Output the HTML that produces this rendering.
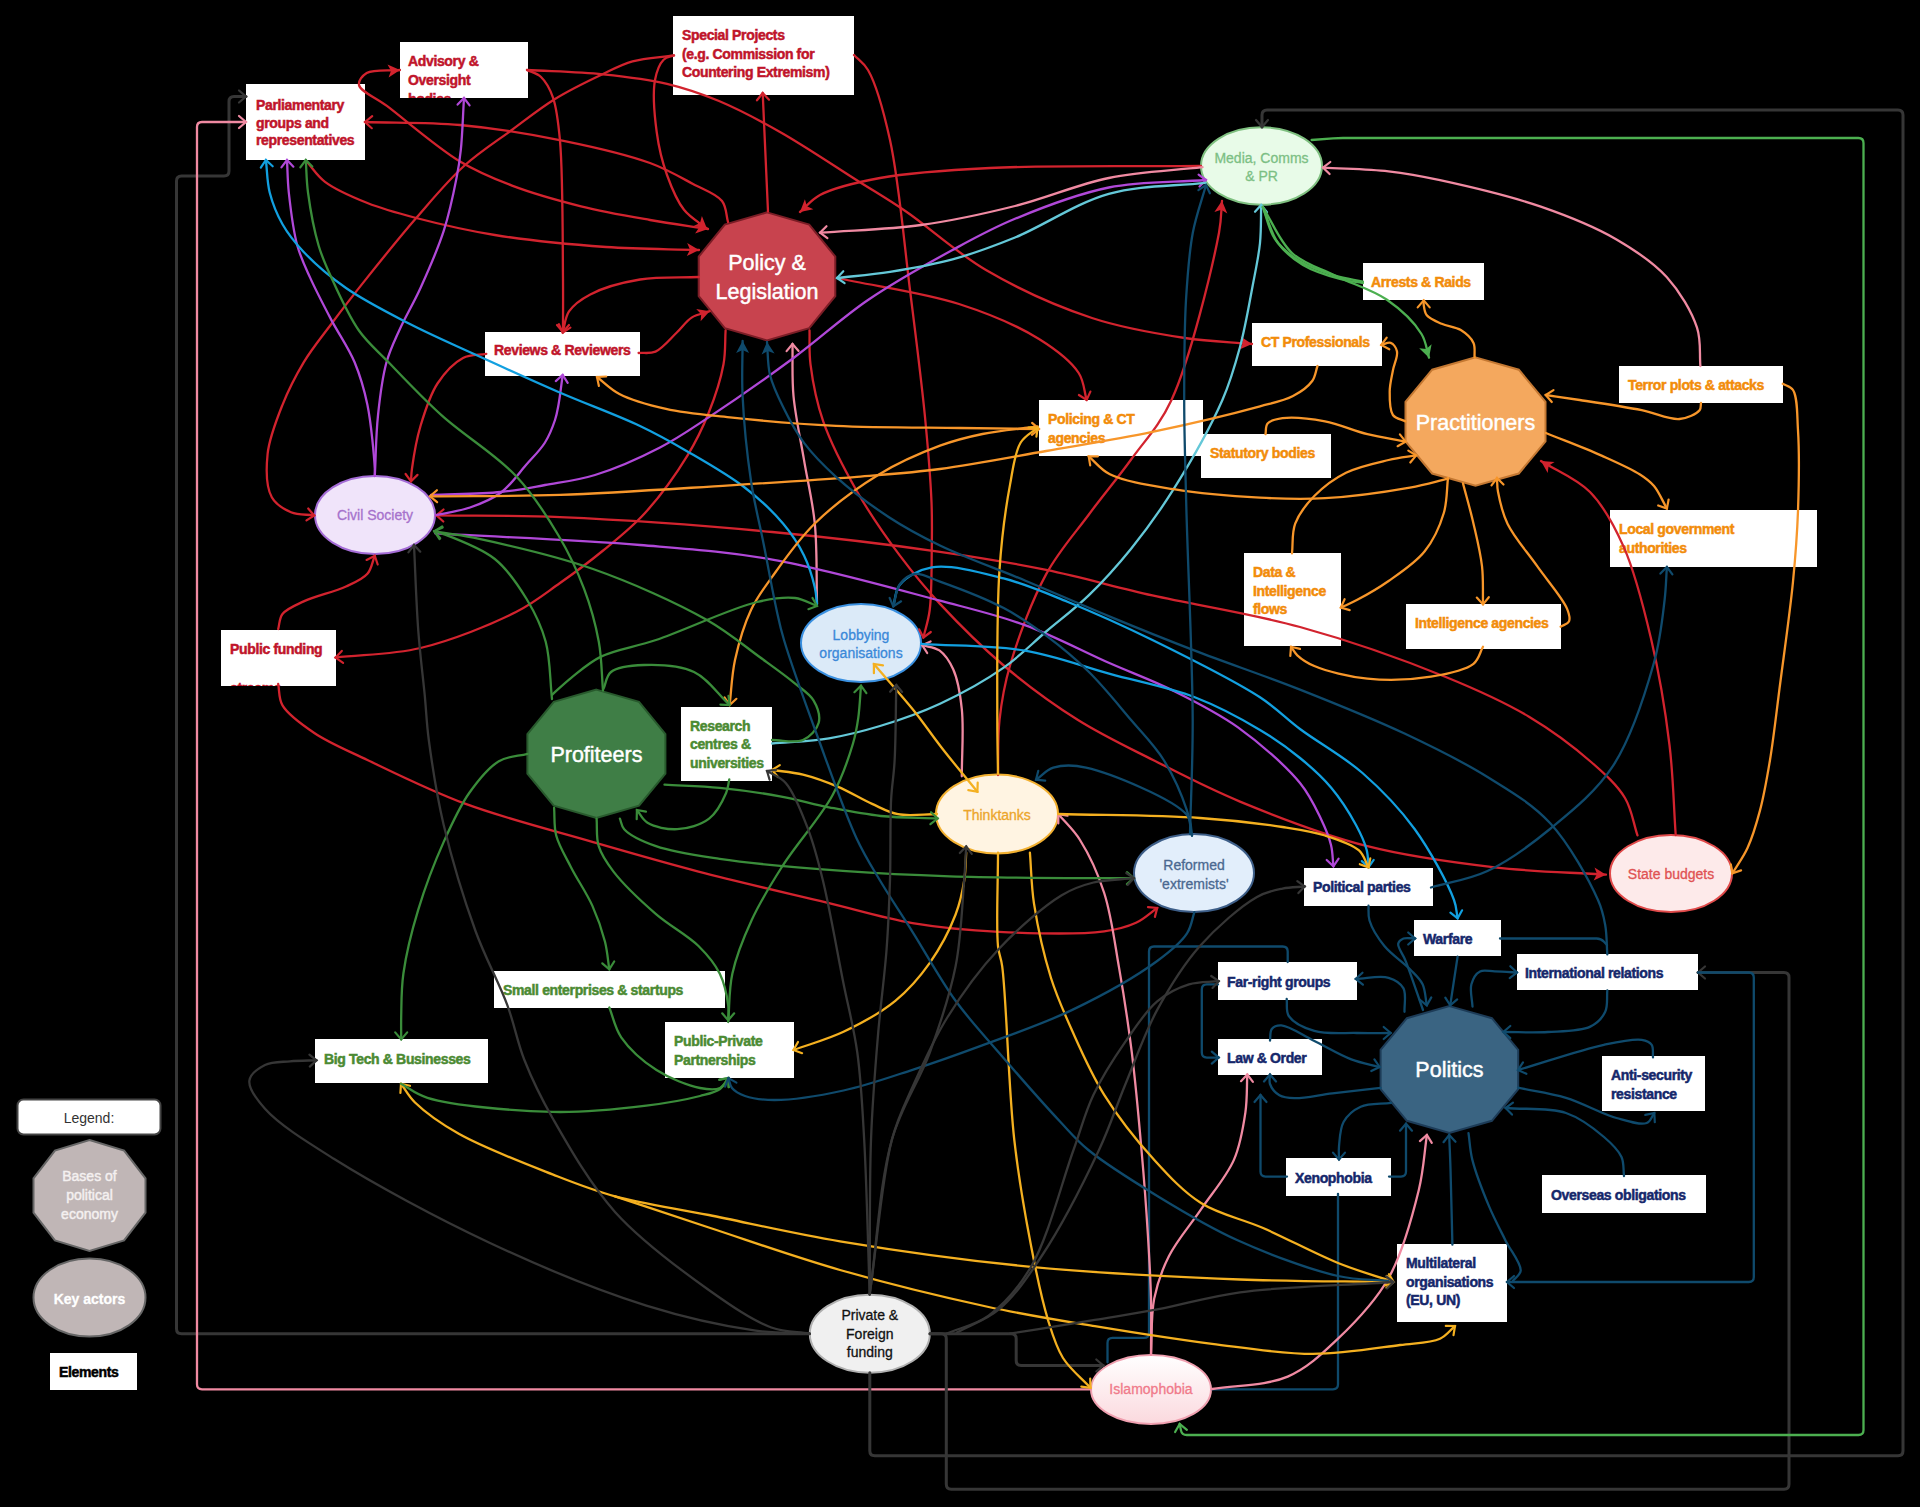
<!DOCTYPE html>
<html><head><meta charset="utf-8"><style>
html,body{margin:0;padding:0;background:#000;width:1920px;height:1507px;overflow:hidden}
svg{display:block;font-family:"Liberation Sans",sans-serif}
.bx{font-size:14px;font-weight:bold;letter-spacing:-0.35px;stroke-width:0.5px;paint-order:stroke}
</style></head><body>
<svg width="1920" height="1507" viewBox="0 0 1920 1507">
<rect width="1920" height="1507" fill="#000"/>
<linearGradient id="islg" x1="0" y1="0" x2="0" y2="1"><stop offset="0" stop-color="#ffffff"/><stop offset="1" stop-color="#fbd9de"/></linearGradient>
<rect x="17.5" y="1099.5" width="143" height="35" rx="6" fill="#fff" stroke="#444" stroke-width="2"/>
<text x="89" y="1123" text-anchor="middle" font-size="14" fill="#333">Legend:</text>
<clipPath id="c0"><rect x="246" y="84" width="119" height="76"/></clipPath>
<rect x="246" y="84" width="119" height="76" fill="#fff"/>
<g clip-path="url(#c0)"><text class="bx" x="256" y="110" fill="#c0142a" stroke="#c0142a">Parliamentary</text><text class="bx" x="256" y="127.5" fill="#c0142a" stroke="#c0142a">groups and</text><text class="bx" x="256" y="145" fill="#c0142a" stroke="#c0142a">representatives</text></g>
<clipPath id="c1"><rect x="400" y="42" width="128" height="56"/></clipPath>
<rect x="400" y="42" width="128" height="56" fill="#fff"/>
<g clip-path="url(#c1)"><text class="bx" x="408" y="66" fill="#c0142a" stroke="#c0142a">Advisory &amp;</text><text class="bx" x="408" y="84.5" fill="#c0142a" stroke="#c0142a">Oversight</text><text class="bx" x="408" y="104" fill="#c0142a" stroke="#c0142a">bodies</text></g>
<clipPath id="c2"><rect x="673" y="16" width="181" height="79"/></clipPath>
<rect x="673" y="16" width="181" height="79" fill="#fff"/>
<g clip-path="url(#c2)"><text class="bx" x="682" y="40" fill="#c0142a" stroke="#c0142a">Special Projects</text><text class="bx" x="682" y="59" fill="#c0142a" stroke="#c0142a">(e.g. Commission for</text><text class="bx" x="682" y="77" fill="#c0142a" stroke="#c0142a">Countering Extremism)</text></g>
<clipPath id="c3"><rect x="485" y="332" width="155" height="44"/></clipPath>
<rect x="485" y="332" width="155" height="44" fill="#fff"/>
<g clip-path="url(#c3)"><text class="bx" x="494" y="355" fill="#c0142a" stroke="#c0142a">Reviews &amp; Reviewers</text></g>
<clipPath id="c4"><rect x="221" y="630" width="115" height="56"/></clipPath>
<rect x="221" y="630" width="115" height="56" fill="#fff"/>
<g clip-path="url(#c4)"><text class="bx" x="230" y="654" fill="#c0142a" stroke="#c0142a">Public funding</text><text class="bx" x="230" y="693" fill="#c0142a" stroke="#c0142a">streams</text></g>
<clipPath id="c5"><rect x="1252" y="323" width="130" height="43"/></clipPath>
<rect x="1252" y="323" width="130" height="43" fill="#fff"/>
<g clip-path="url(#c5)"><text class="bx" x="1261" y="347" fill="#f28c0a" stroke="#f28c0a">CT Professionals</text></g>
<clipPath id="c6"><rect x="1363" y="263" width="121" height="37"/></clipPath>
<rect x="1363" y="263" width="121" height="37" fill="#fff"/>
<g clip-path="url(#c6)"><text class="bx" x="1371" y="287" fill="#f28c0a" stroke="#f28c0a">Arrests &amp; Raids</text></g>
<clipPath id="c7"><rect x="1619" y="366" width="164" height="37"/></clipPath>
<rect x="1619" y="366" width="164" height="37" fill="#fff"/>
<g clip-path="url(#c7)"><text class="bx" x="1628" y="390" fill="#f28c0a" stroke="#f28c0a">Terror plots &amp; attacks</text></g>
<clipPath id="c8"><rect x="1039" y="400" width="164" height="56"/></clipPath>
<rect x="1039" y="400" width="164" height="56" fill="#fff"/>
<g clip-path="url(#c8)"><text class="bx" x="1048" y="424" fill="#f28c0a" stroke="#f28c0a">Policing &amp; CT</text><text class="bx" x="1048" y="442.5" fill="#f28c0a" stroke="#f28c0a">agencies</text></g>
<clipPath id="c9"><rect x="1201" y="434" width="130" height="44"/></clipPath>
<rect x="1201" y="434" width="130" height="44" fill="#fff"/>
<g clip-path="url(#c9)"><text class="bx" x="1210" y="458" fill="#f28c0a" stroke="#f28c0a">Statutory bodies</text></g>
<clipPath id="c10"><rect x="1244" y="553" width="97" height="93"/></clipPath>
<rect x="1244" y="553" width="97" height="93" fill="#fff"/>
<g clip-path="url(#c10)"><text class="bx" x="1253" y="577" fill="#f28c0a" stroke="#f28c0a">Data &amp;</text><text class="bx" x="1253" y="595.5" fill="#f28c0a" stroke="#f28c0a">Intelligence</text><text class="bx" x="1253" y="614" fill="#f28c0a" stroke="#f28c0a">flows</text></g>
<clipPath id="c11"><rect x="1406" y="604" width="155" height="45"/></clipPath>
<rect x="1406" y="604" width="155" height="45" fill="#fff"/>
<g clip-path="url(#c11)"><text class="bx" x="1415" y="628" fill="#f28c0a" stroke="#f28c0a">Intelligence agencies</text></g>
<clipPath id="c12"><rect x="1610" y="510" width="207" height="57"/></clipPath>
<rect x="1610" y="510" width="207" height="57" fill="#fff"/>
<g clip-path="url(#c12)"><text class="bx" x="1619" y="534" fill="#f28c0a" stroke="#f28c0a">Local government</text><text class="bx" x="1619" y="553" fill="#f28c0a" stroke="#f28c0a">authorities</text></g>
<clipPath id="c13"><rect x="681" y="707" width="91" height="74"/></clipPath>
<rect x="681" y="707" width="91" height="74" fill="#fff"/>
<g clip-path="url(#c13)"><text class="bx" x="690" y="730.5" fill="#4b8a32" stroke="#4b8a32">Research</text><text class="bx" x="690" y="749" fill="#4b8a32" stroke="#4b8a32">centres &amp;</text><text class="bx" x="690" y="767.5" fill="#4b8a32" stroke="#4b8a32">universities</text></g>
<clipPath id="c14"><rect x="494" y="971" width="231" height="37"/></clipPath>
<rect x="494" y="971" width="231" height="37" fill="#fff"/>
<g clip-path="url(#c14)"><text class="bx" x="503" y="995" fill="#4b8a32" stroke="#4b8a32">Small enterprises &amp; startups</text></g>
<clipPath id="c15"><rect x="665" y="1022" width="129" height="56"/></clipPath>
<rect x="665" y="1022" width="129" height="56" fill="#fff"/>
<g clip-path="url(#c15)"><text class="bx" x="674" y="1046" fill="#4b8a32" stroke="#4b8a32">Public-Private</text><text class="bx" x="674" y="1065" fill="#4b8a32" stroke="#4b8a32">Partnerships</text></g>
<clipPath id="c16"><rect x="315" y="1039" width="173" height="44"/></clipPath>
<rect x="315" y="1039" width="173" height="44" fill="#fff"/>
<g clip-path="url(#c16)"><text class="bx" x="324" y="1064" fill="#4b8a32" stroke="#4b8a32">Big Tech &amp; Businesses</text></g>
<clipPath id="c17"><rect x="1304" y="868" width="129" height="38"/></clipPath>
<rect x="1304" y="868" width="129" height="38" fill="#fff"/>
<g clip-path="url(#c17)"><text class="bx" x="1313" y="892" fill="#15276b" stroke="#15276b">Political parties</text></g>
<clipPath id="c18"><rect x="1414" y="920" width="87" height="36"/></clipPath>
<rect x="1414" y="920" width="87" height="36" fill="#fff"/>
<g clip-path="url(#c18)"><text class="bx" x="1423" y="944" fill="#15276b" stroke="#15276b">Warfare</text></g>
<clipPath id="c19"><rect x="1218" y="962" width="139" height="38"/></clipPath>
<rect x="1218" y="962" width="139" height="38" fill="#fff"/>
<g clip-path="url(#c19)"><text class="bx" x="1227" y="987" fill="#15276b" stroke="#15276b">Far-right groups</text></g>
<clipPath id="c20"><rect x="1218" y="1039" width="104" height="36"/></clipPath>
<rect x="1218" y="1039" width="104" height="36" fill="#fff"/>
<g clip-path="url(#c20)"><text class="bx" x="1227" y="1063" fill="#15276b" stroke="#15276b">Law &amp; Order</text></g>
<clipPath id="c21"><rect x="1517" y="954" width="181" height="36"/></clipPath>
<rect x="1517" y="954" width="181" height="36" fill="#fff"/>
<g clip-path="url(#c21)"><text class="bx" x="1525" y="978" fill="#15276b" stroke="#15276b">International relations</text></g>
<clipPath id="c22"><rect x="1602" y="1056" width="103" height="55"/></clipPath>
<rect x="1602" y="1056" width="103" height="55" fill="#fff"/>
<g clip-path="url(#c22)"><text class="bx" x="1611" y="1080" fill="#15276b" stroke="#15276b">Anti-security</text><text class="bx" x="1611" y="1099" fill="#15276b" stroke="#15276b">resistance</text></g>
<clipPath id="c23"><rect x="1286" y="1158" width="105" height="38"/></clipPath>
<rect x="1286" y="1158" width="105" height="38" fill="#fff"/>
<g clip-path="url(#c23)"><text class="bx" x="1295" y="1182.5" fill="#15276b" stroke="#15276b">Xenophobia</text></g>
<clipPath id="c24"><rect x="1542" y="1175" width="164" height="38"/></clipPath>
<rect x="1542" y="1175" width="164" height="38" fill="#fff"/>
<g clip-path="url(#c24)"><text class="bx" x="1551" y="1200" fill="#15276b" stroke="#15276b">Overseas obligations</text></g>
<clipPath id="c25"><rect x="1397" y="1244" width="110" height="78"/></clipPath>
<rect x="1397" y="1244" width="110" height="78" fill="#fff"/>
<g clip-path="url(#c25)"><text class="bx" x="1406" y="1268" fill="#15276b" stroke="#15276b">Multilateral</text><text class="bx" x="1406" y="1287" fill="#15276b" stroke="#15276b">organisations</text><text class="bx" x="1406" y="1305" fill="#15276b" stroke="#15276b">(EU, UN)</text></g>
<clipPath id="c26"><rect x="50" y="1353" width="87" height="37"/></clipPath>
<rect x="50" y="1353" width="87" height="37" fill="#fff"/>
<g clip-path="url(#c26)"><text class="bx" x="59" y="1377" fill="#000" stroke="#000">Elements</text></g>
<polygon points="767.0,212.4 809.2,224.6 835.3,256.6 835.3,296.2 809.2,328.2 767.0,340.4 724.8,328.2 698.7,296.2 698.7,256.6 724.8,224.6" fill="#c8434e" stroke="#7b1d26" stroke-width="2"/>
<text x="767" y="270" text-anchor="middle" font-size="21.5" fill="#fff" stroke="#fff" stroke-width="0.45" style="paint-order:stroke">Policy &amp;</text>
<text x="767" y="299" text-anchor="middle" font-size="21.5" fill="#fff" stroke="#fff" stroke-width="0.45" style="paint-order:stroke">Legislation</text>
<polygon points="1475.5,357.4 1518.8,369.7 1545.5,401.8 1545.5,441.4 1518.8,473.5 1475.5,485.8 1432.2,473.5 1405.5,441.4 1405.5,401.8 1432.2,369.7" fill="#f4a85e" stroke="#c47832" stroke-width="2"/>
<text x="1475.5" y="430" text-anchor="middle" font-size="21.5" fill="#fff" stroke="#fff" stroke-width="0.45" style="paint-order:stroke">Practitioners</text>
<polygon points="596.4,689.6 639.0,701.9 665.4,734.0 665.4,773.6 639.0,805.7 596.4,818.0 553.8,805.7 527.4,773.6 527.4,734.0 553.8,701.9" fill="#3f7e46" stroke="#285a2d" stroke-width="2"/>
<text x="596.4" y="762" text-anchor="middle" font-size="21.5" fill="#fff" stroke="#fff" stroke-width="0.45" style="paint-order:stroke">Profiteers</text>
<polygon points="1449.4,1006.1 1491.9,1018.2 1518.2,1049.9 1518.2,1089.1 1491.9,1120.8 1449.4,1132.9 1406.9,1120.8 1380.6,1089.1 1380.6,1049.9 1406.9,1018.2" fill="#3a6482" stroke="#1d3c58" stroke-width="2"/>
<text x="1449.4" y="1077" text-anchor="middle" font-size="21.5" fill="#fff" stroke="#fff" stroke-width="0.45" style="paint-order:stroke">Politics</text>
<polygon points="89.5,1140.0 124.1,1150.6 145.5,1178.3 145.5,1212.7 124.1,1240.4 89.5,1251.0 54.9,1240.4 33.5,1212.7 33.5,1178.3 54.9,1150.6" fill="#c0b6b6" stroke="#666666" stroke-width="2"/>
<text x="89.5" y="1181" text-anchor="middle" font-size="14" fill="#f4f0f0" stroke="#f4f0f0" stroke-width="0.45" style="paint-order:stroke">Bases of</text>
<text x="89.5" y="1200" text-anchor="middle" font-size="14" fill="#f4f0f0" stroke="#f4f0f0" stroke-width="0.45" style="paint-order:stroke">political</text>
<text x="89.5" y="1218.5" text-anchor="middle" font-size="14" fill="#f4f0f0" stroke="#f4f0f0" stroke-width="0.45" style="paint-order:stroke">economy</text>
<ellipse cx="1261.5" cy="166" rx="60.5" ry="38.7" fill="#e8fbe8" stroke="#7fc080" stroke-width="2"/>
<text x="1261.5" y="163" text-anchor="middle" font-size="14"  fill="#7cbf84" stroke="#7cbf84" stroke-width="0.3" style="paint-order:stroke">Media, Comms</text>
<text x="1261.5" y="181" text-anchor="middle" font-size="14"  fill="#7cbf84" stroke="#7cbf84" stroke-width="0.3" style="paint-order:stroke">&amp; PR</text>
<ellipse cx="375" cy="515" rx="60" ry="39" fill="#f0e4fa" stroke="#a46cd6" stroke-width="2"/>
<text x="375" y="520" text-anchor="middle" font-size="14"  fill="#a672cc" stroke="#a672cc" stroke-width="0.3" style="paint-order:stroke">Civil Society</text>
<ellipse cx="861" cy="643" rx="60" ry="39" fill="#dbeaf8" stroke="#3a90e0" stroke-width="2"/>
<text x="861" y="640" text-anchor="middle" font-size="14"  fill="#3a88d8" stroke="#3a88d8" stroke-width="0.3" style="paint-order:stroke">Lobbying</text>
<text x="861" y="658" text-anchor="middle" font-size="14"  fill="#3a88d8" stroke="#3a88d8" stroke-width="0.3" style="paint-order:stroke">organisations</text>
<ellipse cx="997" cy="814" rx="61" ry="39.4" fill="#fff4e2" stroke="#f2b030" stroke-width="2"/>
<text x="997" y="820" text-anchor="middle" font-size="14"  fill="#eca52a" stroke="#eca52a" stroke-width="0.3" style="paint-order:stroke">Thinktanks</text>
<ellipse cx="1194" cy="873" rx="60" ry="39" fill="#e2eefb" stroke="#3d5e88" stroke-width="2"/>
<text x="1194" y="870" text-anchor="middle" font-size="14"  fill="#4a6890" stroke="#4a6890" stroke-width="0.3" style="paint-order:stroke">Reformed</text>
<text x="1194" y="889" text-anchor="middle" font-size="14"  fill="#4a6890" stroke="#4a6890" stroke-width="0.3" style="paint-order:stroke">&#39;extremists&#39;</text>
<ellipse cx="1671" cy="873.5" rx="61" ry="38.5" fill="#fdeaea" stroke="#e04a4a" stroke-width="2"/>
<text x="1671" y="879" text-anchor="middle" font-size="14"  fill="#e05252" stroke="#e05252" stroke-width="0.3" style="paint-order:stroke">State budgets</text>
<ellipse cx="869.8" cy="1333.7" rx="60" ry="39" fill="#f0f0f0" stroke="#b0b0b0" stroke-width="2"/>
<text x="869.8" y="1320" text-anchor="middle" font-size="14"  fill="#111111" stroke="#111111" stroke-width="0.3" style="paint-order:stroke">Private &amp;</text>
<text x="869.8" y="1339" text-anchor="middle" font-size="14"  fill="#111111" stroke="#111111" stroke-width="0.3" style="paint-order:stroke">Foreign</text>
<text x="869.8" y="1357" text-anchor="middle" font-size="14"  fill="#111111" stroke="#111111" stroke-width="0.3" style="paint-order:stroke">funding</text>
<ellipse cx="1151" cy="1389.4" rx="60" ry="34.5" fill="url(#islg)" stroke="#f0a0b0" stroke-width="2"/>
<text x="1151" y="1394" text-anchor="middle" font-size="14"  fill="#f07a8a" stroke="#f07a8a" stroke-width="0.3" style="paint-order:stroke">Islamophobia</text>
<ellipse cx="89.5" cy="1297.6" rx="56" ry="39" fill="#c0b6b6" stroke="#666666" stroke-width="2"/>
<text x="89.5" y="1303.5" text-anchor="middle" font-size="14" font-weight="bold" fill="#ffffff" stroke="#ffffff" stroke-width="0.3" style="paint-order:stroke">Key actors</text>
<path d="M809.5,1333.7 L181.5,1333.7 Q176.5,1333.7 176.5,1328.7 L176.5,181.0 Q176.5,176.0 181.5,176.0 L224.0,176.0 Q229.0,176.0 229.0,171.0 L229.0,101.5 Q229.0,96.5 234.0,96.5 L246.0,96.5" fill="none" stroke="#363636" stroke-width="3" stroke-linecap="round"/>
<polyline points="239.0,102.5 246.0,96.5 239.0,90.5" fill="none" stroke="#363636" stroke-width="2.2" stroke-linejoin="miter" stroke-linecap="round"/>
<path d="M1091.0,1389.3 L202.0,1389.3 Q197.0,1389.3 197.0,1384.3 L197.0,127.0 Q197.0,122.0 202.0,122.0 L246.0,122.0" fill="none" stroke="#f08aa2" stroke-width="2.3" stroke-linecap="round"/>
<polyline points="239.0,128.0 246.0,122.0 239.0,116.0" fill="none" stroke="#f08aa2" stroke-width="2.2" stroke-linejoin="miter" stroke-linecap="round"/>
<path d="M869.8,1372.8 L869.8,1450.7 Q869.8,1455.7 874.8,1455.7 L1898.0,1455.7 Q1903.0,1455.7 1903.0,1450.7 L1903.0,115.0 Q1903.0,110.0 1898.0,110.0 L1267.0,110.0 Q1262.0,110.0 1262.0,115.0 L1262.0,127.0" fill="none" stroke="#363636" stroke-width="3" stroke-linecap="round"/>
<polyline points="1256.0,120.0 1262.0,127.0 1268.0,120.0" fill="none" stroke="#363636" stroke-width="2.2" stroke-linejoin="miter" stroke-linecap="round"/>
<path d="M930.0,1333.7 L941.3,1333.7 Q946.3,1333.7 946.3,1338.7 L946.3,1484.2 Q946.3,1489.2 951.3,1489.2 L1784.0,1489.2 Q1789.0,1489.2 1789.0,1484.2 L1789.0,977.5 Q1789.0,972.5 1784.0,972.5 L1698.0,972.5" fill="none" stroke="#363636" stroke-width="3" stroke-linecap="round"/>
<polyline points="1705.0,966.5 1698.0,972.5 1705.0,978.5" fill="none" stroke="#363636" stroke-width="2.2" stroke-linejoin="miter" stroke-linecap="round"/>
<path d="M1311.6,140.0 L1333.0,138.4 Q1338.0,138.0 1343.0,138.0 L1858.5,138.0 Q1863.5,138.0 1863.5,143.0 L1863.5,1430.0 Q1863.5,1435.0 1858.5,1435.0 L1186.8,1435.0 Q1181.8,1435.0 1180.9,1430.1 L1179.7,1424.0" fill="none" stroke="#4caf50" stroke-width="2.3" stroke-linecap="round"/>
<polyline points="1186.9,1429.8 1179.7,1424.0 1175.1,1432.0" fill="none" stroke="#4caf50" stroke-width="2.2" stroke-linejoin="miter" stroke-linecap="round"/>
<path d="M1698.0,972.5 L1748.8,972.5 Q1753.8,972.5 1753.8,977.5 L1753.8,1277.0 Q1753.8,1282.0 1748.8,1282.0 L1507.0,1282.0" fill="none" stroke="#0f4a6c" stroke-width="2.3" stroke-linecap="round"/>
<polyline points="1514.0,1276.0 1507.0,1282.0 1514.0,1288.0" fill="none" stroke="#0f4a6c" stroke-width="2.2" stroke-linejoin="miter" stroke-linecap="round"/>
<path d="M1107.5,1362.3 L1107.5,1342.9 Q1107.5,1337.9 1112.5,1337.9 L1144.0,1337.9 Q1149.0,1337.9 1149.0,1332.9 L1149.0,951.5 Q1149.0,946.5 1154.0,946.5 L1282.7,946.5 Q1287.7,946.5 1287.7,951.5 L1287.7,962.0" fill="none" stroke="#0f4a6c" stroke-width="2.3" stroke-linecap="round"/>
<path d="M1218.0,984.4 L1206.8,984.4 Q1201.8,984.4 1201.8,989.4 L1201.8,1052.6 Q1201.8,1057.6 1206.8,1057.6 L1218.8,1057.6" fill="none" stroke="#0f4a6c" stroke-width="2.3" stroke-linecap="round"/>
<polyline points="1211.8,1063.6 1218.8,1057.6 1211.8,1051.6" fill="none" stroke="#0f4a6c" stroke-width="2.2" stroke-linejoin="miter" stroke-linecap="round"/>
<path d="M930.0,1333.7 L1011.2,1333.7 Q1016.2,1333.7 1016.2,1338.7 L1016.2,1360.5 Q1016.2,1365.5 1021.2,1365.5 L1103.3,1365.5" fill="none" stroke="#363636" stroke-width="3" stroke-linecap="round"/>
<polyline points="1096.3,1371.5 1103.3,1365.5 1096.3,1359.5" fill="none" stroke="#363636" stroke-width="2.2" stroke-linejoin="miter" stroke-linecap="round"/>
<path d="M1389.0,1176.6 L1401.0,1176.6 Q1406.0,1176.6 1406.0,1171.6 L1406.0,1123.7" fill="none" stroke="#0f4a6c" stroke-width="2.3" stroke-linecap="round"/>
<polyline points="1412.0,1130.7 1406.0,1123.7 1400.0,1130.7" fill="none" stroke="#0f4a6c" stroke-width="2.2" stroke-linejoin="miter" stroke-linecap="round"/>
<path d="M1287.0,1176.6 L1265.5,1176.6 Q1260.5,1176.6 1260.5,1171.6 L1260.5,1095.0" fill="none" stroke="#0f4a6c" stroke-width="2.3" stroke-linecap="round"/>
<polyline points="1266.5,1102.0 1260.5,1095.0 1254.5,1102.0" fill="none" stroke="#0f4a6c" stroke-width="2.2" stroke-linejoin="miter" stroke-linecap="round"/>
<path d="M1338.0,1193.8 L1338.0,1384.3 Q1338.0,1389.3 1333.0,1389.3 L1212.0,1389.3" fill="none" stroke="#0f4a6c" stroke-width="2.3" stroke-linecap="round"/>
<path d="M1500.0,938.5 L1596.6,938.5 Q1601.0,938.5 1604.0,941.8 L1607.0,945.0" fill="none" stroke="#0f4a6c" stroke-width="2.3" stroke-linecap="round"/>
<path d="M728.0,222.0 C726.0,215.0 726.6,206.9 722.0,201.0 C716.3,193.7 703.7,189.8 693.0,184.0 C680.2,177.1 667.2,169.3 650.0,163.0 C626.5,154.4 593.8,147.0 563.5,140.8 C530.7,134.1 493.9,128.1 460.0,125.0 C427.7,122.0 396.7,123.0 365.0,122.0" fill="none" stroke="#d2232e" stroke-width="2.3" stroke-linecap="round"/>
<polyline points="372.2,116.2 365.0,122.0 371.8,128.2" fill="none" stroke="#d2232e" stroke-width="2.2" stroke-linejoin="miter" stroke-linecap="round"/>
<path d="M306.9,161.7 C312.9,168.4 317.0,175.7 325.0,181.8 C335.6,189.9 352.5,197.0 367.4,203.0 C382.9,209.2 397.9,213.2 416.2,218.0 C439.2,224.0 466.2,230.4 494.8,235.0 C528.5,240.5 570.5,244.5 606.0,247.0 C638.3,249.3 668.0,249.0 699.0,250.0" fill="none" stroke="#d2232e" stroke-width="2.3" stroke-linecap="round"/>
<polygon points="699.0,250.0 686.8,256.1 690.0,249.7 687.2,243.1" fill="#d2232e"/>
<path d="M400.0,70.0 C388.9,71.0 373.5,68.9 366.7,73.0 C362.3,75.7 358.2,80.8 359.0,85.0 C360.2,91.5 375.4,97.2 386.9,105.9 C405.5,120.0 437.0,147.6 460.0,161.5 C478.2,172.4 493.2,178.5 512.0,185.6 C533.1,193.6 557.9,200.5 581.0,206.3 C603.9,212.0 628.0,216.1 650.0,220.0 C670.1,223.6 688.7,226.0 708.0,229.0" fill="none" stroke="#d2232e" stroke-width="2.3" stroke-linecap="round"/>
<polygon points="708.0,229.0 695.1,233.6 699.1,227.6 697.1,220.7" fill="#d2232e"/>
<polygon points="400.0,70.0 388.6,77.6 391.0,70.8 387.5,64.6" fill="#d2232e"/>
<path d="M527.0,70.0 C552.3,71.4 578.8,71.8 603.0,74.3 C625.3,76.6 647.0,79.0 667.0,83.8 C685.4,88.2 701.3,93.6 719.0,101.0 C738.8,109.3 758.7,119.9 780.0,132.0 C804.7,146.0 835.2,166.6 858.0,181.0 C875.9,192.3 888.2,199.3 906.0,211.5 C929.5,227.5 956.5,252.8 986.0,270.0 C1018.0,288.7 1057.2,306.5 1092.0,318.0 C1123.4,328.4 1156.4,333.7 1185.0,338.0 C1209.0,341.6 1229.7,342.0 1252.0,344.0" fill="none" stroke="#d2232e" stroke-width="2.3" stroke-linecap="round"/>
<polygon points="1252.0,344.0 1239.5,349.4 1243.0,343.2 1240.6,336.5" fill="#d2232e"/>
<path d="M527.0,70.0 C531.7,72.3 537.0,73.2 541.0,77.0 C546.0,81.7 550.0,89.1 553.0,97.6 C557.1,109.1 558.3,122.3 560.0,140.8 C563.0,173.7 562.6,243.6 563.0,278.8 C563.2,300.7 563.0,314.3 563.0,332.0" fill="none" stroke="#d2232e" stroke-width="2.3" stroke-linecap="round"/>
<polyline points="557.0,325.0 563.0,332.0 569.0,325.0" fill="none" stroke="#d2232e" stroke-width="2.2" stroke-linejoin="miter" stroke-linecap="round"/>
<path d="M674.0,55.4 C660.2,57.4 645.0,57.9 632.5,61.4 C621.6,64.5 613.9,68.8 603.0,74.0 C588.8,80.7 570.3,89.6 555.0,99.0 C539.9,108.3 526.5,119.2 511.8,130.0 C496.2,141.5 479.3,152.1 464.0,166.0 C447.3,181.1 432.0,199.9 416.2,218.0 C399.8,236.9 382.3,258.7 367.4,277.4 C354.3,293.8 342.4,309.1 331.3,324.0 C321.4,337.3 311.8,348.9 303.7,362.3 C295.6,375.8 288.4,389.9 282.5,404.8 C276.3,420.4 269.2,438.0 267.6,454.0 C266.1,468.7 266.3,487.3 271.8,497.3 C275.9,504.8 283.8,509.2 291.0,512.2 C298.0,515.2 306.5,514.3 314.3,515.4" fill="none" stroke="#d2232e" stroke-width="2.3" stroke-linecap="round"/>
<polyline points="306.5,520.4 314.3,515.4 308.2,508.5" fill="none" stroke="#d2232e" stroke-width="2.2" stroke-linejoin="miter" stroke-linecap="round"/>
<path d="M674.0,55.4 C670.5,56.8 666.5,56.8 663.6,59.7 C659.6,63.7 656.6,71.5 655.0,80.0 C652.6,93.1 654.5,115.6 656.7,132.0 C658.7,147.1 662.2,161.7 667.0,175.0 C671.5,187.5 676.7,200.6 684.0,209.8 C690.4,217.9 699.3,222.4 707.0,228.7" fill="none" stroke="#d2232e" stroke-width="2.3" stroke-linecap="round"/>
<polygon points="707.0,228.7 693.6,226.1 700.0,223.0 701.9,216.1" fill="#d2232e"/>
<path d="M768.0,211.5 L762.7,93.0" fill="none" stroke="#d2232e" stroke-width="2.3" stroke-linecap="round"/>
<polyline points="769.0,99.7 762.7,93.0 757.0,100.3" fill="none" stroke="#d2232e" stroke-width="2.2" stroke-linejoin="miter" stroke-linecap="round"/>
<path d="M699.0,277.0 C679.3,277.8 658.6,276.4 640.0,279.5 C622.5,282.4 602.9,287.8 590.3,294.4 C581.1,299.2 573.6,304.6 569.0,311.4 C564.9,317.5 564.8,325.5 562.7,332.6" fill="none" stroke="#d2232e" stroke-width="2.3" stroke-linecap="round"/>
<polyline points="558.9,324.2 562.7,332.6 570.4,327.6" fill="none" stroke="#d2232e" stroke-width="2.2" stroke-linejoin="miter" stroke-linecap="round"/>
<path d="M486.3,353.8 C478.5,355.2 470.4,354.1 463.0,358.0 C453.9,362.8 444.4,373.1 437.5,383.5 C429.8,395.2 424.8,411.6 420.5,426.0 C416.3,440.0 413.4,458.4 412.0,468.5 C411.2,474.0 411.3,477.1 411.0,481.4" fill="none" stroke="#d2232e" stroke-width="2.3" stroke-linecap="round"/>
<polyline points="405.6,474.0 411.0,481.4 417.5,474.9" fill="none" stroke="#d2232e" stroke-width="2.2" stroke-linejoin="miter" stroke-linecap="round"/>
<path d="M638.6,353.0 C644.2,352.5 649.9,354.0 655.5,351.6 C662.7,348.5 670.4,338.6 676.8,332.5 C682.3,327.3 686.0,321.2 691.6,317.6 C697.0,314.2 703.7,313.3 709.7,311.2" fill="none" stroke="#d2232e" stroke-width="2.3" stroke-linecap="round"/>
<polygon points="709.7,311.2 700.6,321.3 701.2,314.2 696.2,309.1" fill="#d2232e"/>
<path d="M1201.0,166.0 C1130.7,166.7 1048.9,165.0 990.0,168.0 C947.4,170.1 910.9,172.3 880.0,178.0 C856.8,182.3 834.1,187.5 820.0,195.0 C810.9,199.9 806.7,206.3 800.0,212.0" fill="none" stroke="#d2232e" stroke-width="2.3" stroke-linecap="round"/>
<polygon points="800.0,212.0 804.9,199.3 806.9,206.2 813.4,209.2" fill="#d2232e"/>
<path d="M837.0,278.0 C877.7,286.7 923.1,292.5 959.0,304.0 C989.0,313.7 1017.7,325.7 1039.0,339.0 C1055.5,349.3 1071.0,361.1 1078.7,373.0 C1084.3,381.7 1084.0,391.0 1086.6,400.0" fill="none" stroke="#d2232e" stroke-width="2.3" stroke-linecap="round"/>
<polyline points="1078.9,395.0 1086.6,400.0 1090.4,391.6" fill="none" stroke="#d2232e" stroke-width="2.2" stroke-linejoin="miter" stroke-linecap="round"/>
<path d="M278.2,629.0 C279.6,624.0 279.2,618.3 282.5,614.0 C286.6,608.6 295.2,605.4 303.7,601.4 C315.2,596.0 334.5,591.9 346.0,586.5 C354.6,582.5 362.6,579.4 367.4,573.8 C371.7,568.8 372.3,561.7 374.8,555.7" fill="none" stroke="#d2232e" stroke-width="2.3" stroke-linecap="round"/>
<polyline points="377.7,564.5 374.8,555.7 366.6,559.9" fill="none" stroke="#d2232e" stroke-width="2.2" stroke-linejoin="miter" stroke-linecap="round"/>
<path d="M725.6,330.3 C724.9,341.6 725.7,352.1 723.5,364.3 C720.8,379.2 714.8,397.6 708.6,413.0 C702.6,427.9 696.5,440.8 687.4,455.6 C676.3,473.8 660.0,496.5 645.0,513.0 C631.6,527.8 616.9,539.2 602.5,551.0 C588.6,562.4 574.5,572.8 560.0,583.0 C545.6,593.1 534.1,602.8 516.0,612.0 C490.8,624.8 451.9,640.4 420.5,648.0 C391.8,654.9 363.8,654.4 335.5,657.6" fill="none" stroke="#d2232e" stroke-width="2.3" stroke-linecap="round"/>
<polyline points="341.8,650.9 335.5,657.6 343.1,662.8" fill="none" stroke="#d2232e" stroke-width="2.2" stroke-linejoin="miter" stroke-linecap="round"/>
<path d="M854.0,55.0 C858.7,60.0 863.6,62.5 868.0,70.0 C876.3,84.3 883.8,112.0 890.0,140.0 C898.9,180.3 904.0,242.1 910.0,290.0 C915.5,334.1 921.3,378.9 925.0,417.0 C928.0,448.1 930.5,478.3 931.5,502.0 C932.2,519.0 932.0,530.0 931.8,546.0 C931.5,565.3 931.9,593.2 929.7,610.0 C928.3,621.2 925.5,628.3 923.4,637.5" fill="none" stroke="#d2232e" stroke-width="2.3" stroke-linecap="round"/>
<polyline points="919.1,629.3 923.4,637.5 930.8,632.0" fill="none" stroke="#d2232e" stroke-width="2.2" stroke-linejoin="miter" stroke-linecap="round"/>
<path d="M809.5,330.3 C809.8,341.6 808.9,351.6 810.5,364.3 C812.6,381.0 816.5,401.9 823.3,421.6 C831.2,444.2 844.4,469.3 857.2,491.7 C869.9,513.9 885.2,536.0 899.7,555.4 C912.9,573.0 924.5,587.2 940.0,603.9 C958.4,623.7 981.0,646.3 1003.7,665.5 C1026.9,685.1 1052.6,704.0 1078.0,720.0 C1102.4,735.3 1126.9,746.8 1153.0,760.0 C1180.8,774.0 1207.8,788.3 1240.0,801.6 C1278.0,817.3 1324.5,835.2 1367.4,846.2 C1409.4,857.0 1453.7,862.6 1494.8,867.4 C1533.0,871.8 1568.9,872.3 1606.0,874.7" fill="none" stroke="#d2232e" stroke-width="2.3" stroke-linecap="round"/>
<polygon points="1606.0,874.7 1593.6,880.4 1597.0,874.1 1594.5,867.4" fill="#d2232e"/>
<path d="M1637.5,835.4 C1633.3,822.9 1631.9,809.6 1625.0,798.0 C1617.3,785.1 1605.2,774.4 1591.7,762.5 C1574.6,747.4 1552.1,730.5 1529.0,716.7 C1503.9,701.7 1477.8,690.1 1445.8,677.0 C1404.4,660.1 1349.2,640.6 1300.0,627.0 C1251.3,613.5 1197.5,605.6 1152.4,595.4 C1114.0,586.7 1081.7,577.2 1046.2,569.9 C1010.9,562.7 979.5,557.5 940.0,551.8 C890.5,544.7 831.6,537.6 772.3,532.0 C705.8,525.8 621.3,519.8 560.0,517.2 C513.3,515.2 477.6,516.0 436.4,515.4" fill="none" stroke="#d2232e" stroke-width="2.3" stroke-linecap="round"/>
<polyline points="443.5,509.5 436.4,515.4 443.3,521.5" fill="none" stroke="#d2232e" stroke-width="2.2" stroke-linejoin="miter" stroke-linecap="round"/>
<path d="M1675.7,835.0 C1673.6,805.0 1673.3,776.2 1669.5,745.0 C1665.4,710.9 1659.0,672.4 1651.0,638.5 C1643.5,606.6 1635.3,572.9 1623.7,546.9 C1614.2,525.5 1604.3,506.5 1590.0,492.0 C1576.4,478.2 1557.3,471.3 1541.0,461.0" fill="none" stroke="#d2232e" stroke-width="2.3" stroke-linecap="round"/>
<polygon points="1541.0,461.0 1554.6,461.9 1548.6,465.8 1547.7,472.9" fill="#d2232e"/>
<path d="M998.0,775.0 C998.5,756.7 997.5,738.2 999.5,720.0 C1001.5,701.7 1004.1,685.7 1010.0,665.5 C1017.8,638.6 1031.8,600.5 1046.2,574.1 C1058.6,551.3 1074.4,534.0 1088.7,514.7 C1102.7,495.8 1117.4,478.5 1131.1,459.5 C1145.0,440.2 1159.3,426.1 1171.5,400.0 C1190.4,359.4 1212.6,266.8 1219.0,232.7 C1221.7,218.1 1221.0,211.4 1222.0,200.8" fill="none" stroke="#d2232e" stroke-width="2.3" stroke-linecap="round"/>
<polygon points="1222.0,200.8 1227.3,213.4 1221.2,209.8 1214.4,212.1" fill="#d2232e"/>
<path d="M278.2,684.0 C279.6,691.1 278.5,698.5 282.5,705.4 C288.1,715.0 301.7,724.5 314.3,733.0 C329.2,743.1 346.9,750.2 367.4,760.0 C394.9,773.1 429.9,790.6 465.0,803.7 C504.2,818.3 551.7,830.1 592.3,841.9 C629.3,852.6 661.4,861.9 698.5,871.6 C739.0,882.1 787.6,893.2 826.0,902.4 C857.6,910.0 883.5,918.2 912.5,923.1 C941.1,927.9 968.6,930.4 998.8,931.8 C1032.1,933.4 1079.4,934.6 1104.2,931.3 C1118.0,929.4 1126.8,927.1 1136.0,922.8 C1144.2,919.0 1150.1,912.9 1157.2,908.0" fill="none" stroke="#d2232e" stroke-width="2.3" stroke-linecap="round"/>
<polyline points="1154.9,916.9 1157.2,908.0 1148.0,907.1" fill="none" stroke="#d2232e" stroke-width="2.2" stroke-linejoin="miter" stroke-linecap="round"/>
<path d="M1202.5,167.2 C1171.2,170.8 1139.7,171.6 1108.8,178.0 C1077.2,184.5 1046.5,198.1 1015.0,206.0 C983.9,213.8 953.0,220.6 921.0,225.0 C888.1,229.6 853.7,230.1 820.0,232.7" fill="none" stroke="#f08aa2" stroke-width="2.3" stroke-linecap="round"/>
<polyline points="826.5,226.2 820.0,232.7 827.4,238.2" fill="none" stroke="#f08aa2" stroke-width="2.2" stroke-linejoin="miter" stroke-linecap="round"/>
<path d="M817.0,604.0 C816.3,577.2 817.3,548.7 814.8,523.5 C812.6,501.0 807.5,481.1 804.0,459.9 C800.4,438.6 795.4,416.3 793.5,396.0 C791.8,377.8 792.8,361.3 792.5,344.0" fill="none" stroke="#f08aa2" stroke-width="2.3" stroke-linecap="round"/>
<polyline points="798.6,350.9 792.5,344.0 786.6,351.1" fill="none" stroke="#f08aa2" stroke-width="2.2" stroke-linejoin="miter" stroke-linecap="round"/>
<path d="M961.8,776.3 C961.8,753.9 963.9,728.4 961.8,709.0 C960.2,693.9 957.9,679.7 953.2,669.3 C949.6,661.4 945.0,654.4 939.4,650.4 C934.5,646.9 927.9,646.9 922.2,645.2" fill="none" stroke="#f08aa2" stroke-width="2.3" stroke-linecap="round"/>
<polyline points="930.6,641.5 922.2,645.2 927.2,653.0" fill="none" stroke="#f08aa2" stroke-width="2.2" stroke-linejoin="miter" stroke-linecap="round"/>
<path d="M1700.4,366.0 C1699.3,353.2 1701.3,340.8 1697.0,327.7 C1691.7,311.5 1680.0,291.8 1666.9,277.3 C1653.4,262.3 1635.7,250.7 1616.5,239.5 C1594.5,226.7 1568.2,216.2 1540.8,206.7 C1510.0,196.0 1468.1,186.3 1440.0,180.2 C1420.1,175.9 1406.8,173.5 1388.5,171.4 C1368.0,169.1 1344.8,168.9 1323.0,167.6" fill="none" stroke="#f08aa2" stroke-width="2.3" stroke-linecap="round"/>
<polyline points="1330.3,162.0 1323.0,167.6 1329.6,174.0" fill="none" stroke="#f08aa2" stroke-width="2.2" stroke-linejoin="miter" stroke-linecap="round"/>
<path d="M1151.0,1354.9 C1151.0,1336.1 1151.5,1317.9 1151.0,1298.6 C1150.5,1278.0 1149.3,1257.7 1147.9,1235.0 C1146.3,1208.7 1144.1,1179.3 1141.5,1150.0 C1138.8,1118.6 1135.7,1083.7 1131.8,1052.3 C1128.1,1023.0 1123.8,994.7 1119.0,967.4 C1114.5,941.7 1111.4,915.3 1104.2,893.0 C1097.9,873.4 1088.9,854.1 1080.0,840.0 C1073.3,829.3 1065.6,822.8 1058.4,814.2" fill="none" stroke="#f08aa2" stroke-width="2.3" stroke-linecap="round"/>
<polyline points="1067.5,815.7 1058.4,814.2 1058.3,823.4" fill="none" stroke="#f08aa2" stroke-width="2.2" stroke-linejoin="miter" stroke-linecap="round"/>
<path d="M1151.0,1354.9 C1152.1,1336.1 1150.8,1315.8 1154.2,1298.6 C1157.3,1283.2 1161.9,1270.0 1169.0,1256.0 C1176.9,1240.3 1190.3,1225.2 1201.0,1209.4 C1212.0,1193.1 1226.6,1176.7 1234.0,1159.6 C1240.7,1144.2 1243.2,1127.3 1245.4,1112.3 C1247.3,1099.1 1246.7,1087.1 1247.3,1074.5" fill="none" stroke="#f08aa2" stroke-width="2.3" stroke-linecap="round"/>
<polyline points="1252.9,1081.8 1247.3,1074.5 1241.0,1081.2" fill="none" stroke="#f08aa2" stroke-width="2.2" stroke-linejoin="miter" stroke-linecap="round"/>
<path d="M1212.0,1389.0 C1237.2,1384.9 1266.0,1385.9 1287.7,1376.6 C1307.4,1368.2 1322.0,1353.9 1338.0,1338.7 C1355.8,1321.7 1375.3,1301.7 1388.5,1278.2 C1402.9,1252.7 1412.4,1216.2 1418.8,1190.0 C1423.7,1169.8 1424.2,1153.3 1426.9,1135.0" fill="none" stroke="#f08aa2" stroke-width="2.3" stroke-linecap="round"/>
<polyline points="1431.8,1142.8 1426.9,1135.0 1419.9,1141.1" fill="none" stroke="#f08aa2" stroke-width="2.2" stroke-linejoin="miter" stroke-linecap="round"/>
<path d="M431.0,495.0 C454.3,494.0 480.4,494.1 501.0,492.0 C517.4,490.3 529.9,487.7 545.0,485.0 C561.2,482.1 577.5,480.4 595.0,475.0 C615.6,468.7 640.3,457.7 660.0,447.5 C677.8,438.3 690.3,429.4 708.6,417.4 C733.2,401.2 766.4,378.0 793.5,358.0 C819.4,338.9 841.8,317.9 868.0,300.0 C894.7,281.8 926.2,264.3 952.5,250.0 C974.7,237.9 991.7,228.4 1015.0,218.8 C1042.7,207.3 1076.8,194.0 1108.8,187.5 C1140.5,181.1 1173.6,182.5 1206.0,180.0" fill="none" stroke="#b048d8" stroke-width="2.3" stroke-linecap="round"/>
<polyline points="1199.5,186.5 1206.0,180.0 1198.6,174.6" fill="none" stroke="#b048d8" stroke-width="2.2" stroke-linejoin="miter" stroke-linecap="round"/>
<path d="M436.2,515.0 C447.5,512.5 459.2,511.3 470.0,507.5 C480.8,503.8 491.8,499.4 501.0,492.5 C510.6,485.4 518.3,473.8 526.0,465.0 C532.8,457.2 540.1,450.4 545.0,442.5 C549.5,435.3 552.7,426.9 555.0,420.0 C556.8,414.5 557.4,410.7 558.5,404.8 C560.0,396.6 561.3,384.9 562.7,375.0" fill="none" stroke="#b048d8" stroke-width="2.3" stroke-linecap="round"/>
<polyline points="567.7,382.8 562.7,375.0 555.8,381.1" fill="none" stroke="#b048d8" stroke-width="2.2" stroke-linejoin="miter" stroke-linecap="round"/>
<path d="M374.8,476.0 C374.8,473.5 375.0,472.2 374.8,468.5 C374.2,457.6 371.3,423.7 367.4,404.8 C364.1,389.0 360.4,376.2 354.6,362.3 C348.5,347.8 338.8,334.1 331.3,319.9 C323.9,305.8 316.0,290.7 310.0,277.4 C304.9,266.1 300.7,257.7 297.3,245.5 C293.1,230.3 290.5,208.1 288.8,192.5 C287.5,180.4 287.6,170.8 287.0,160.0" fill="none" stroke="#b048d8" stroke-width="2.3" stroke-linecap="round"/>
<polyline points="293.4,166.7 287.0,160.0 281.4,167.3" fill="none" stroke="#b048d8" stroke-width="2.2" stroke-linejoin="miter" stroke-linecap="round"/>
<path d="M374.8,476.0 C375.9,455.8 375.9,434.9 378.0,415.4 C379.9,397.1 382.3,377.5 386.5,362.3 C389.9,350.1 394.1,341.8 399.2,330.5 C405.2,317.2 413.5,303.4 420.5,288.0 C428.4,270.5 437.7,249.7 443.8,230.7 C449.5,212.9 453.7,192.5 456.6,177.6 C458.7,167.0 459.7,160.7 460.8,150.0 C462.4,135.4 462.9,115.3 464.0,98.0" fill="none" stroke="#b048d8" stroke-width="2.3" stroke-linecap="round"/>
<polyline points="469.6,105.4 464.0,98.0 457.6,104.6" fill="none" stroke="#b048d8" stroke-width="2.2" stroke-linejoin="miter" stroke-linecap="round"/>
<path d="M435.3,533.4 C503.5,537.3 579.2,539.9 640.0,545.0 C689.0,549.1 725.9,551.4 772.3,559.6 C825.2,569.0 893.6,588.4 940.0,600.7 C973.2,609.5 997.0,614.9 1024.9,625.1 C1053.6,635.6 1083.6,651.7 1109.9,663.3 C1132.6,673.3 1152.6,680.4 1173.6,690.9 C1195.3,701.7 1217.5,712.7 1238.0,727.4 C1259.7,743.0 1285.6,765.4 1300.0,783.0 C1310.2,795.5 1315.6,807.8 1321.0,819.0 C1325.4,828.2 1329.0,836.6 1331.0,845.0 C1332.8,852.3 1332.6,859.2 1333.4,866.3" fill="none" stroke="#b048d8" stroke-width="2.3" stroke-linecap="round"/>
<polyline points="1326.7,860.0 1333.4,866.3 1338.6,858.7" fill="none" stroke="#b048d8" stroke-width="2.2" stroke-linejoin="miter" stroke-linecap="round"/>
<path d="M1205.6,182.8 C1173.3,186.4 1140.1,184.9 1108.8,193.8 C1076.5,202.8 1043.4,225.9 1015.0,237.5 C992.3,246.7 973.5,253.6 952.5,259.4 C931.9,265.0 910.0,268.7 890.0,271.9 C871.7,274.8 854.7,276.0 837.0,278.0" fill="none" stroke="#64c8d8" stroke-width="2.3" stroke-linecap="round"/>
<polyline points="843.3,271.2 837.0,278.0 844.6,283.2" fill="none" stroke="#64c8d8" stroke-width="2.2" stroke-linejoin="miter" stroke-linecap="round"/>
<path d="M772.0,743.5 C791.0,741.8 810.6,741.3 829.0,738.3 C846.6,735.4 862.5,731.3 880.0,726.0 C899.4,720.1 920.1,713.0 940.0,703.7 C961.3,693.8 985.1,680.6 1003.7,667.6 C1019.9,656.3 1032.0,643.5 1046.2,631.5 C1060.4,619.5 1075.0,608.7 1088.7,595.4 C1103.3,581.3 1117.4,565.6 1131.1,548.7 C1145.8,530.5 1159.6,511.5 1173.6,489.2 C1190.1,462.9 1210.9,426.3 1222.4,400.0 C1230.9,380.5 1235.0,365.5 1240.0,347.0 C1245.3,327.4 1249.2,304.1 1252.7,285.5 C1255.6,270.1 1258.6,256.8 1260.0,243.0 C1261.3,230.0 1260.8,217.7 1261.2,205.0" fill="none" stroke="#64c8d8" stroke-width="2.3" stroke-linecap="round"/>
<polyline points="1267.0,212.2 1261.2,205.0 1255.0,211.8" fill="none" stroke="#64c8d8" stroke-width="2.2" stroke-linejoin="miter" stroke-linecap="round"/>
<path d="M817.0,604.2 C816.3,598.5 816.3,593.7 814.8,587.2 C812.7,578.2 809.0,565.7 804.0,555.4 C798.6,544.4 791.8,533.9 783.0,523.5 C772.7,511.2 759.4,498.8 744.7,487.5 C728.1,474.6 705.8,462.1 687.4,451.4 C671.0,441.9 658.2,434.6 640.0,426.0 C616.7,414.9 585.9,403.9 558.5,392.0 C530.4,379.8 499.7,365.8 473.5,353.8 C450.7,343.3 430.9,334.8 409.9,324.0 C388.4,312.9 364.6,301.0 346.0,288.0 C329.8,276.7 314.9,263.8 303.7,252.0 C294.8,242.6 288.2,234.3 282.5,224.3 C276.9,214.4 272.5,203.3 269.7,192.5 C267.0,181.9 267.2,170.8 265.9,160.0" fill="none" stroke="#12a0e0" stroke-width="2.3" stroke-linecap="round"/>
<polyline points="272.7,166.3 265.9,160.0 260.8,167.6" fill="none" stroke="#12a0e0" stroke-width="2.2" stroke-linejoin="miter" stroke-linecap="round"/>
<path d="M893.3,606.0 C895.5,598.8 895.0,590.4 900.0,584.4 C906.3,576.8 918.6,569.7 931.8,567.4 C950.5,564.2 980.7,572.5 1003.7,578.4 C1025.9,584.1 1044.8,592.5 1067.4,601.7 C1093.9,612.5 1122.7,625.4 1152.4,640.0 C1186.4,656.7 1233.4,679.9 1260.0,697.3 C1277.2,708.6 1285.0,717.8 1300.0,729.0 C1318.3,742.7 1343.4,756.3 1362.5,773.0 C1381.6,789.7 1399.5,808.2 1414.6,829.0 C1430.1,850.4 1448.1,883.7 1454.0,900.0 C1456.9,907.8 1456.4,912.2 1457.6,918.3" fill="none" stroke="#12a0e0" stroke-width="2.3" stroke-linecap="round"/>
<polyline points="1450.4,912.6 1457.6,918.3 1462.1,910.3" fill="none" stroke="#12a0e0" stroke-width="2.2" stroke-linejoin="miter" stroke-linecap="round"/>
<path d="M921.0,643.8 C955.6,646.1 992.3,645.1 1024.9,650.6 C1054.9,655.6 1081.6,666.1 1109.9,673.9 C1138.2,681.7 1168.8,687.3 1194.8,697.3 C1218.4,706.4 1241.3,718.8 1260.0,730.0 C1275.3,739.1 1287.9,748.1 1300.0,758.0 C1311.4,767.3 1321.8,776.5 1331.0,787.5 C1340.5,798.8 1349.8,813.5 1356.0,825.0 C1360.8,833.9 1364.7,842.3 1366.7,850.0 C1368.3,856.2 1367.9,861.6 1368.5,867.4" fill="none" stroke="#12a0e0" stroke-width="2.3" stroke-linecap="round"/>
<polyline points="1361.8,861.1 1368.5,867.4 1373.7,859.8" fill="none" stroke="#12a0e0" stroke-width="2.2" stroke-linejoin="miter" stroke-linecap="round"/>
<path d="M1039.0,429.0 C1012.7,428.7 989.3,428.4 960.0,428.0 C923.3,427.5 875.7,427.8 836.0,425.9 C799.2,424.1 760.8,420.7 729.9,417.4 C705.9,414.8 685.4,413.3 666.0,408.9 C649.1,405.1 631.7,400.4 619.4,394.0 C610.1,389.2 604.5,382.7 597.0,377.0" fill="none" stroke="#f7962a" stroke-width="2.3" stroke-linecap="round"/>
<polyline points="606.2,376.5 597.0,377.0 598.9,386.0" fill="none" stroke="#f7962a" stroke-width="2.2" stroke-linejoin="miter" stroke-linecap="round"/>
<polyline points="1031.9,434.9 1039.0,429.0 1032.1,422.9" fill="none" stroke="#f7962a" stroke-width="2.2" stroke-linejoin="miter" stroke-linecap="round"/>
<path d="M1317.5,366.0 C1315.7,371.0 1315.5,376.4 1312.2,381.0 C1308.1,386.7 1300.7,392.0 1293.0,396.0 C1283.8,400.8 1274.3,402.5 1260.0,406.4 C1234.5,413.4 1188.3,424.4 1152.4,431.9 C1117.0,439.3 1081.6,444.8 1046.2,451.0 C1010.8,457.2 973.3,464.6 940.0,469.0 C910.7,472.9 887.6,474.3 857.0,476.8 C819.1,479.8 775.3,482.5 729.9,485.3 C677.4,488.5 612.9,493.1 560.0,494.9 C513.8,496.5 473.3,495.8 430.0,496.3" fill="none" stroke="#f7962a" stroke-width="2.3" stroke-linecap="round"/>
<polyline points="436.9,490.2 430.0,496.3 437.1,502.2" fill="none" stroke="#f7962a" stroke-width="2.2" stroke-linejoin="miter" stroke-linecap="round"/>
<path d="M1037.7,426.5 C1019.3,429.0 999.6,430.5 982.5,434.0 C967.3,437.1 955.2,440.1 940.0,445.7 C921.1,452.7 898.5,462.5 878.5,474.7 C856.7,488.0 833.0,505.7 814.8,523.5 C798.1,539.9 783.7,560.7 772.3,576.6 C763.6,588.8 757.0,597.3 751.0,610.0 C744.1,624.6 738.6,643.6 735.0,660.0 C731.7,675.2 731.4,690.0 729.6,705.0" fill="none" stroke="#f7962a" stroke-width="2.3" stroke-linecap="round"/>
<polyline points="724.5,697.3 729.6,705.0 736.4,698.8" fill="none" stroke="#f7962a" stroke-width="2.2" stroke-linejoin="miter" stroke-linecap="round"/>
<path d="M1474.6,357.7 C1474.2,352.8 1475.5,347.3 1473.5,342.9 C1471.3,338.0 1465.9,333.2 1460.8,330.0 C1455.4,326.7 1447.6,326.4 1441.7,323.8 C1436.3,321.4 1429.7,319.0 1426.8,315.3 C1424.4,312.3 1424.1,307.4 1423.7,304.6 C1423.5,302.9 1423.7,301.8 1423.7,300.4" fill="none" stroke="#f7962a" stroke-width="2.3" stroke-linecap="round"/>
<polyline points="1429.7,307.4 1423.7,300.4 1417.7,307.4" fill="none" stroke="#f7962a" stroke-width="2.2" stroke-linejoin="miter" stroke-linecap="round"/>
<path d="M1405.6,421.4 C1401.4,419.3 1395.6,418.8 1392.9,415.0 C1389.4,410.1 1389.6,399.3 1389.7,391.7 C1389.7,384.5 1391.6,377.4 1392.9,370.5 C1394.1,363.9 1398.1,356.3 1397.0,351.4 C1396.2,347.8 1393.4,343.9 1390.7,342.9 C1388.1,341.9 1384.4,344.3 1381.2,345.0" fill="none" stroke="#f7962a" stroke-width="2.3" stroke-linecap="round"/>
<polyline points="1386.7,337.6 1381.2,345.0 1389.3,349.3" fill="none" stroke="#f7962a" stroke-width="2.2" stroke-linejoin="miter" stroke-linecap="round"/>
<path d="M1265.5,434.2 C1266.2,430.6 1265.3,426.1 1267.6,423.5 C1270.3,420.4 1276.1,419.1 1282.5,418.2 C1292.9,416.8 1311.0,418.8 1325.0,421.4 C1339.3,424.1 1353.5,430.8 1367.4,434.2 C1380.4,437.4 1392.9,439.1 1405.6,441.6" fill="none" stroke="#f7962a" stroke-width="2.3" stroke-linecap="round"/>
<polyline points="1397.6,446.2 1405.6,441.6 1399.9,434.4" fill="none" stroke="#f7962a" stroke-width="2.2" stroke-linejoin="miter" stroke-linecap="round"/>
<path d="M1292.0,553.4 C1293.1,543.5 1291.7,533.0 1295.2,523.7 C1298.9,513.8 1306.3,504.2 1314.3,496.0 C1323.0,487.1 1334.1,478.6 1346.0,472.7 C1358.7,466.4 1375.9,463.0 1388.6,460.0 C1398.7,457.7 1407.0,456.9 1416.2,455.4" fill="none" stroke="#f7962a" stroke-width="2.3" stroke-linecap="round"/>
<polyline points="1410.3,462.5 1416.2,455.4 1408.3,450.6" fill="none" stroke="#f7962a" stroke-width="2.2" stroke-linejoin="miter" stroke-linecap="round"/>
<path d="M1448.0,478.7 C1435.3,481.7 1425.2,484.9 1409.9,487.6 C1387.3,491.6 1351.5,496.7 1325.0,498.2 C1301.9,499.5 1283.2,498.9 1260.0,497.7 C1233.2,496.3 1200.1,493.6 1173.6,489.2 C1150.6,485.4 1124.8,481.8 1109.9,474.3 C1100.2,469.4 1095.8,462.3 1088.7,456.3" fill="none" stroke="#f7962a" stroke-width="2.3" stroke-linecap="round"/>
<polyline points="1097.9,456.3 1088.7,456.3 1090.2,465.4" fill="none" stroke="#f7962a" stroke-width="2.2" stroke-linejoin="miter" stroke-linecap="round"/>
<path d="M1448.0,478.0 C1446.6,489.7 1447.3,501.4 1443.8,513.0 C1440.0,525.8 1433.6,540.1 1424.7,551.3 C1415.4,563.0 1400.6,572.6 1388.6,581.0 C1377.9,588.5 1365.7,595.4 1356.8,600.1 C1350.7,603.4 1346.1,605.1 1340.8,607.6" fill="none" stroke="#f7962a" stroke-width="2.3" stroke-linecap="round"/>
<polyline points="1344.6,599.2 1340.8,607.6 1349.7,610.1" fill="none" stroke="#f7962a" stroke-width="2.2" stroke-linejoin="miter" stroke-linecap="round"/>
<path d="M1463.0,483.4 C1466.5,496.8 1470.4,510.0 1473.5,523.7 C1476.7,537.6 1480.4,552.3 1482.0,566.2 C1483.5,579.2 1482.7,591.7 1483.0,604.4" fill="none" stroke="#f7962a" stroke-width="2.3" stroke-linecap="round"/>
<polyline points="1476.8,597.6 1483.0,604.4 1488.8,597.2" fill="none" stroke="#f7962a" stroke-width="2.2" stroke-linejoin="miter" stroke-linecap="round"/>
<path d="M1560.6,626.7 C1563.4,624.9 1567.8,624.1 1569.0,621.4 C1570.4,618.3 1569.1,613.8 1567.0,608.6 C1562.8,598.2 1547.1,580.3 1537.2,566.2 C1527.3,552.0 1514.1,537.4 1507.5,523.7 C1502.2,512.7 1499.6,500.3 1498.0,491.8 C1497.0,486.3 1497.3,482.6 1497.0,478.0" fill="none" stroke="#f7962a" stroke-width="2.3" stroke-linecap="round"/>
<polyline points="1503.5,484.5 1497.0,478.0 1491.5,485.4" fill="none" stroke="#f7962a" stroke-width="2.2" stroke-linejoin="miter" stroke-linecap="round"/>
<path d="M1483.0,646.8 C1479.8,652.5 1479.1,659.3 1473.5,663.8 C1465.0,670.6 1446.8,674.0 1431.0,676.6 C1412.1,679.7 1387.5,680.7 1367.4,678.7 C1348.8,676.8 1326.8,671.3 1314.3,666.0 C1306.7,662.8 1301.4,659.1 1297.3,655.3 C1294.4,652.6 1293.1,649.6 1291.0,646.8" fill="none" stroke="#f7962a" stroke-width="2.3" stroke-linecap="round"/>
<polyline points="1300.0,648.9 1291.0,646.8 1290.3,656.0" fill="none" stroke="#f7962a" stroke-width="2.2" stroke-linejoin="miter" stroke-linecap="round"/>
<path d="M1701.0,403.0 C1700.5,405.4 1701.3,408.1 1699.6,410.2 C1696.6,413.9 1687.4,418.3 1679.5,419.0 C1669.0,420.0 1655.9,413.0 1641.7,410.2 C1623.6,406.6 1597.3,402.7 1579.7,400.0 C1566.7,398.0 1557.0,396.7 1545.7,395.0" fill="none" stroke="#f7962a" stroke-width="2.3" stroke-linecap="round"/>
<polyline points="1553.5,390.1 1545.7,395.0 1551.8,402.0" fill="none" stroke="#f7962a" stroke-width="2.2" stroke-linejoin="miter" stroke-linecap="round"/>
<path d="M1545.9,433.0 C1564.3,440.5 1584.3,447.9 1601.0,455.4 C1615.2,461.8 1630.5,468.4 1640.0,474.5 C1646.1,478.4 1649.8,481.1 1654.0,486.0 C1659.0,491.9 1662.6,501.1 1666.9,508.6" fill="none" stroke="#f7962a" stroke-width="2.3" stroke-linecap="round"/>
<polyline points="1658.2,505.5 1666.9,508.6 1668.6,499.5" fill="none" stroke="#f7962a" stroke-width="2.2" stroke-linejoin="miter" stroke-linecap="round"/>
<path d="M1782.8,383.8 C1786.2,385.9 1790.5,386.1 1793.0,390.0 C1797.7,397.2 1797.0,414.6 1798.0,430.4 C1799.4,452.6 1798.9,485.0 1798.0,511.0 C1797.1,535.4 1795.5,556.1 1793.0,581.7 C1790.0,612.4 1784.4,651.1 1780.3,682.5 C1776.7,710.0 1773.8,737.0 1770.0,760.0 C1766.9,778.7 1764.1,794.9 1760.0,810.4 C1756.4,824.0 1752.6,836.9 1747.5,848.0 C1743.1,857.6 1737.4,864.9 1732.4,873.4" fill="none" stroke="#f7962a" stroke-width="2.3" stroke-linecap="round"/>
<polyline points="1730.8,864.3 1732.4,873.4 1741.1,870.4" fill="none" stroke="#f7962a" stroke-width="2.2" stroke-linejoin="miter" stroke-linecap="round"/>
<path d="M998.0,774.0 C997.8,756.0 997.3,742.5 997.3,720.0 C997.3,682.5 996.5,612.8 999.5,569.9 C1001.7,537.5 1005.6,508.2 1010.0,484.9 C1013.1,468.2 1014.6,452.4 1020.7,442.5 C1025.1,435.4 1032.0,432.6 1037.7,427.6" fill="none" stroke="#f4b020" stroke-width="2.3" stroke-linecap="round"/>
<polyline points="1036.4,436.7 1037.7,427.6 1028.5,427.7" fill="none" stroke="#f4b020" stroke-width="2.2" stroke-linejoin="miter" stroke-linecap="round"/>
<path d="M873.9,664.0 C887.7,680.2 903.3,697.5 915.3,712.5 C925.1,724.8 931.6,734.8 941.1,747.0 C952.0,761.1 965.3,776.9 977.4,791.8" fill="none" stroke="#f4b020" stroke-width="2.3" stroke-linecap="round"/>
<polyline points="968.3,790.1 977.4,791.8 977.7,782.6" fill="none" stroke="#f4b020" stroke-width="2.2" stroke-linejoin="miter" stroke-linecap="round"/>
<polyline points="883.0,665.4 873.9,664.0 873.9,673.2" fill="none" stroke="#f4b020" stroke-width="2.2" stroke-linejoin="miter" stroke-linecap="round"/>
<path d="M937.0,814.0 C924.0,814.1 909.5,816.4 898.0,814.2 C888.3,812.4 881.3,808.0 872.1,803.9 C861.3,799.1 849.3,791.5 837.6,786.6 C826.2,781.8 814.3,777.4 803.0,774.6 C792.5,772.0 782.3,771.5 772.0,770.0" fill="none" stroke="#f4b020" stroke-width="2.3" stroke-linecap="round"/>
<polyline points="779.8,765.1 772.0,770.0 778.0,777.0" fill="none" stroke="#f4b020" stroke-width="2.2" stroke-linejoin="miter" stroke-linecap="round"/>
<path d="M1058.0,814.0 C1105.3,815.3 1159.1,815.2 1200.0,818.0 C1231.3,820.1 1259.6,823.5 1282.5,827.0 C1299.1,829.6 1311.8,831.4 1325.0,835.5 C1337.2,839.3 1351.7,843.8 1359.0,850.4 C1364.3,855.2 1365.3,861.7 1368.5,867.4" fill="none" stroke="#f4b020" stroke-width="2.3" stroke-linecap="round"/>
<polyline points="1359.8,864.2 1368.5,867.4 1370.3,858.4" fill="none" stroke="#f4b020" stroke-width="2.2" stroke-linejoin="miter" stroke-linecap="round"/>
<path d="M966.2,852.7 C965.6,861.8 965.8,870.4 964.3,880.0 C962.6,890.9 960.3,902.3 955.6,914.5 C949.8,929.6 940.1,948.2 929.8,962.8 C919.9,976.9 908.9,989.6 895.3,1000.8 C880.5,1012.9 861.0,1023.5 843.5,1031.8 C827.1,1039.6 810.2,1043.9 793.5,1050.0" fill="none" stroke="#f4b020" stroke-width="2.3" stroke-linecap="round"/>
<polyline points="798.0,1042.0 793.5,1050.0 802.1,1053.2" fill="none" stroke="#f4b020" stroke-width="2.2" stroke-linejoin="miter" stroke-linecap="round"/>
<path d="M998.0,852.7 C998.0,883.9 996.0,926.5 998.0,946.2 C999.0,955.4 1000.8,956.2 1002.2,966.3 C1006.3,995.6 1008.5,1089.4 1014.3,1140.0 C1018.8,1179.6 1024.8,1213.5 1031.0,1245.5 C1036.2,1272.6 1041.7,1299.4 1048.0,1319.9 C1052.6,1334.9 1055.9,1346.7 1063.0,1358.0 C1070.1,1369.3 1081.3,1377.9 1090.5,1387.8" fill="none" stroke="#f4b020" stroke-width="2.3" stroke-linecap="round"/>
<polyline points="1081.3,1386.7 1090.5,1387.8 1090.2,1378.6" fill="none" stroke="#f4b020" stroke-width="2.2" stroke-linejoin="miter" stroke-linecap="round"/>
<path d="M1029.9,852.7 C1031.3,869.7 1031.2,885.2 1034.0,903.7 C1037.5,926.3 1044.0,955.6 1051.0,978.0 C1057.1,997.4 1064.1,1012.7 1072.3,1031.0 C1081.5,1051.5 1091.3,1074.1 1104.2,1094.8 C1117.9,1116.7 1136.0,1139.8 1153.0,1158.5 C1168.4,1175.4 1182.8,1191.5 1201.0,1203.0 C1219.3,1214.6 1241.1,1218.5 1262.5,1227.8 C1286.5,1238.2 1314.5,1253.5 1338.0,1263.0 C1357.7,1270.9 1375.1,1275.7 1393.6,1282.0" fill="none" stroke="#f4b020" stroke-width="2.3" stroke-linecap="round"/>
<polyline points="1385.0,1285.4 1393.6,1282.0 1388.9,1274.1" fill="none" stroke="#f4b020" stroke-width="2.2" stroke-linejoin="miter" stroke-linecap="round"/>
<path d="M401.0,1083.8 C405.7,1090.0 408.4,1096.0 415.0,1102.5 C425.1,1112.3 440.8,1123.6 458.8,1133.8 C483.6,1147.8 524.2,1163.3 552.5,1174.4 C575.3,1183.3 591.8,1190.0 615.0,1196.3 C642.9,1203.9 674.9,1208.2 708.8,1215.0 C748.9,1223.0 792.0,1233.3 840.0,1241.3 C897.6,1250.9 965.8,1260.5 1031.0,1266.8 C1099.0,1273.4 1175.7,1277.0 1240.0,1279.5 C1295.1,1281.6 1342.4,1281.2 1393.6,1282.0" fill="none" stroke="#f4b020" stroke-width="2.3" stroke-linecap="round"/>
<polyline points="1386.5,1287.9 1393.6,1282.0 1386.7,1275.9" fill="none" stroke="#f4b020" stroke-width="2.2" stroke-linejoin="miter" stroke-linecap="round"/>
<polyline points="410.0,1085.8 401.0,1083.8 400.4,1093.0" fill="none" stroke="#f4b020" stroke-width="2.2" stroke-linejoin="miter" stroke-linecap="round"/>
<path d="M615.0,1196.3 C646.3,1206.7 674.9,1216.4 708.8,1227.5 C748.8,1240.6 794.7,1257.0 840.0,1270.0 C887.8,1283.7 943.1,1297.2 988.6,1307.0 C1026.8,1315.2 1058.5,1320.2 1094.8,1326.2 C1132.9,1332.5 1174.3,1339.1 1212.0,1343.8 C1246.9,1348.2 1280.6,1353.9 1313.0,1353.9 C1343.1,1353.9 1376.6,1348.0 1400.0,1345.0 C1415.9,1342.9 1430.3,1343.1 1440.0,1338.7 C1446.8,1335.6 1450.0,1330.2 1455.0,1326.0" fill="none" stroke="#f4b020" stroke-width="2.3" stroke-linecap="round"/>
<polyline points="1453.5,1335.1 1455.0,1326.0 1445.8,1325.9" fill="none" stroke="#f4b020" stroke-width="2.2" stroke-linejoin="miter" stroke-linecap="round"/>
<path d="M552.0,699.0 C549.9,679.9 550.4,659.1 545.7,641.7 C541.5,626.1 534.8,612.5 526.6,599.0 C518.0,584.9 508.2,569.7 494.8,559.0 C480.4,547.5 451.4,537.1 441.7,533.4 C438.2,532.1 436.8,532.0 434.3,531.3" fill="none" stroke="#3a8c3a" stroke-width="2.3" stroke-linecap="round"/>
<polyline points="442.7,527.4 434.3,531.3 439.4,539.0" fill="none" stroke="#3a8c3a" stroke-width="2.2" stroke-linejoin="miter" stroke-linecap="round"/>
<path d="M772.0,740.0 C782.3,740.0 795.0,743.5 803.0,740.0 C810.0,736.9 817.0,729.4 818.7,722.8 C820.4,716.2 817.3,706.9 813.5,700.4 C809.5,693.5 801.9,689.2 794.5,683.1 C784.9,675.1 772.8,666.6 760.0,657.3 C744.3,645.9 728.7,632.4 707.0,620.0 C676.8,602.8 632.0,582.7 593.0,569.0 C554.2,555.3 502.6,543.9 473.5,537.7 C457.0,534.2 447.4,533.4 434.3,531.3" fill="none" stroke="#3a8c3a" stroke-width="2.3" stroke-linecap="round"/>
<polyline points="442.2,526.5 434.3,531.3 440.2,538.3" fill="none" stroke="#3a8c3a" stroke-width="2.2" stroke-linejoin="miter" stroke-linecap="round"/>
<path d="M603.0,690.5 C601.6,674.2 601.8,658.2 598.8,641.7 C595.6,624.2 590.6,606.0 584.0,588.6 C577.2,570.6 569.0,553.2 558.5,535.5 C546.8,515.7 533.6,494.8 516.0,476.0 C495.8,454.5 463.9,435.5 441.7,415.4 C422.0,397.6 403.6,377.9 388.6,362.3 C377.2,350.5 367.9,343.2 358.9,330.5 C348.4,315.6 338.4,293.0 331.3,277.4 C325.9,265.6 322.2,257.7 318.6,245.5 C314.1,230.2 310.1,208.1 308.0,192.5 C306.4,180.4 306.5,170.8 305.8,160.0" fill="none" stroke="#3a8c3a" stroke-width="2.3" stroke-linecap="round"/>
<polyline points="312.3,166.6 305.8,160.0 300.3,167.4" fill="none" stroke="#3a8c3a" stroke-width="2.2" stroke-linejoin="miter" stroke-linecap="round"/>
<path d="M552.0,694.8 C558.4,689.1 563.9,683.6 571.2,677.8 C579.9,670.9 589.0,662.5 601.0,656.6 C616.1,649.2 635.0,647.1 656.0,640.0 C684.7,630.3 731.1,608.1 757.0,602.0 C772.4,598.4 784.2,596.7 795.0,598.0 C803.5,599.0 809.7,603.3 817.0,606.0" fill="none" stroke="#3a8c3a" stroke-width="2.3" stroke-linecap="round"/>
<polyline points="808.4,609.2 817.0,606.0 812.5,598.0" fill="none" stroke="#3a8c3a" stroke-width="2.2" stroke-linejoin="miter" stroke-linecap="round"/>
<path d="M603.5,688.8 C606.0,683.2 606.1,676.0 611.0,672.0 C617.6,666.6 631.8,665.4 644.0,665.0 C658.9,664.5 679.6,665.2 694.0,672.0 C708.1,678.7 717.7,694.0 729.6,705.0" fill="none" stroke="#3a8c3a" stroke-width="2.3" stroke-linecap="round"/>
<polyline points="720.4,704.6 729.6,705.0 728.5,695.8" fill="none" stroke="#3a8c3a" stroke-width="2.2" stroke-linejoin="miter" stroke-linecap="round"/>
<path d="M527.6,753.8 C518.0,756.3 507.8,755.9 498.9,761.2 C488.1,767.6 478.0,780.6 469.2,793.0 C459.3,807.0 451.7,824.0 443.7,841.9 C434.5,862.4 425.0,887.4 418.2,909.9 C411.7,931.2 406.1,954.3 403.4,973.5 C401.2,989.0 401.5,1003.9 401.2,1016.0 C401.0,1025.0 401.2,1031.6 401.2,1039.4" fill="none" stroke="#3a8c3a" stroke-width="2.3" stroke-linecap="round"/>
<polyline points="395.2,1032.4 401.2,1039.4 407.2,1032.4" fill="none" stroke="#3a8c3a" stroke-width="2.2" stroke-linejoin="miter" stroke-linecap="round"/>
<path d="M554.1,808.0 C554.8,817.2 553.8,826.2 556.2,835.5 C559.0,846.0 565.5,856.4 571.1,867.4 C577.4,879.7 586.5,892.8 592.3,905.6 C597.7,917.6 602.1,930.3 605.0,941.7 C607.4,951.4 607.9,960.1 609.3,969.3" fill="none" stroke="#3a8c3a" stroke-width="2.3" stroke-linecap="round"/>
<polyline points="602.3,963.3 609.3,969.3 614.2,961.5" fill="none" stroke="#3a8c3a" stroke-width="2.2" stroke-linejoin="miter" stroke-linecap="round"/>
<path d="M596.6,818.6 C597.3,827.8 596.0,837.5 598.7,846.2 C601.5,855.2 606.5,862.5 613.5,871.6 C623.5,884.6 641.4,901.4 656.0,914.1 C669.8,926.0 687.3,935.0 698.5,946.0 C707.5,954.9 714.7,963.5 719.7,973.5 C724.5,983.3 727.1,996.7 728.2,1005.4 C729.0,1011.2 728.2,1015.3 728.2,1020.3" fill="none" stroke="#3a8c3a" stroke-width="2.3" stroke-linecap="round"/>
<polyline points="722.2,1013.3 728.2,1020.3 734.2,1013.3" fill="none" stroke="#3a8c3a" stroke-width="2.2" stroke-linejoin="miter" stroke-linecap="round"/>
<path d="M728.2,1022.0 C729.6,1005.8 728.8,989.8 732.4,973.5 C736.2,956.0 743.5,937.9 751.5,920.5 C760.0,902.1 770.4,885.0 782.5,866.0 C796.7,843.6 820.4,817.7 832.5,795.3 C842.2,777.3 848.7,758.0 853.0,743.5 C856.0,733.5 857.0,726.7 858.3,717.6 C859.7,707.6 860.1,696.3 861.0,685.7" fill="none" stroke="#3a8c3a" stroke-width="2.3" stroke-linecap="round"/>
<polyline points="866.4,693.2 861.0,685.7 854.4,692.2" fill="none" stroke="#3a8c3a" stroke-width="2.2" stroke-linejoin="miter" stroke-linecap="round"/>
<path d="M619.9,818.6 C621.3,822.1 621.1,825.8 624.2,829.2 C629.6,835.3 643.2,841.6 656.0,846.2 C673.2,852.4 694.7,855.2 719.7,858.9 C754.6,864.1 806.2,868.3 846.3,871.2 C882.5,873.8 912.5,875.1 949.8,876.3 C993.8,877.7 1060.3,878.0 1093.5,878.2 C1111.1,878.3 1120.4,878.2 1133.9,878.2" fill="none" stroke="#3a8c3a" stroke-width="2.3" stroke-linecap="round"/>
<polyline points="1126.9,884.2 1133.9,878.2 1126.9,872.2" fill="none" stroke="#3a8c3a" stroke-width="2.2" stroke-linejoin="miter" stroke-linecap="round"/>
<path d="M729.3,779.3 C728.2,783.9 728.3,787.9 726.1,793.0 C722.9,800.5 717.0,812.6 709.1,818.6 C700.9,824.9 687.7,828.6 677.2,829.2 C667.2,829.7 654.5,827.0 647.5,822.8 C642.4,819.7 640.4,814.3 636.9,810.0" fill="none" stroke="#3a8c3a" stroke-width="2.3" stroke-linecap="round"/>
<polyline points="646.0,811.6 636.9,810.0 636.7,819.2" fill="none" stroke="#3a8c3a" stroke-width="2.2" stroke-linejoin="miter" stroke-linecap="round"/>
<path d="M664.5,784.6 C682.9,785.7 700.9,785.9 719.7,787.8 C739.4,789.8 761.0,792.8 780.0,796.3 C797.2,799.4 812.4,804.0 829.0,807.3 C846.0,810.6 863.1,814.1 880.8,816.0 C899.3,817.9 918.7,817.7 937.7,818.5" fill="none" stroke="#3a8c3a" stroke-width="2.3" stroke-linecap="round"/>
<polyline points="930.4,824.2 937.7,818.5 931.0,812.2" fill="none" stroke="#3a8c3a" stroke-width="2.2" stroke-linejoin="miter" stroke-linecap="round"/>
<path d="M609.3,1007.5 C613.3,1017.4 614.7,1027.8 621.2,1037.3 C629.2,1048.9 643.3,1061.5 656.5,1070.0 C669.6,1078.4 688.1,1085.6 700.0,1088.0 C707.8,1089.5 715.1,1090.3 720.0,1088.0 C724.0,1086.2 725.6,1081.3 728.4,1078.0" fill="none" stroke="#3a8c3a" stroke-width="2.3" stroke-linecap="round"/>
<polyline points="728.5,1087.2 728.4,1078.0 719.3,1079.5" fill="none" stroke="#3a8c3a" stroke-width="2.2" stroke-linejoin="miter" stroke-linecap="round"/>
<path d="M401.0,1083.8 C409.8,1088.5 414.9,1093.9 427.5,1097.8 C453.3,1105.8 513.8,1111.0 552.5,1111.9 C586.0,1112.7 619.4,1108.9 646.3,1105.6 C666.8,1103.1 686.5,1099.5 700.0,1096.0 C708.4,1093.8 715.1,1092.6 720.0,1089.0 C724.0,1086.1 725.6,1081.7 728.4,1078.0" fill="none" stroke="#3a8c3a" stroke-width="2.3" stroke-linecap="round"/>
<polyline points="728.9,1087.2 728.4,1078.0 719.4,1079.9" fill="none" stroke="#3a8c3a" stroke-width="2.2" stroke-linejoin="miter" stroke-linecap="round"/>
<path d="M1262.8,207.0 C1266.9,217.7 1268.7,229.9 1275.0,239.0 C1281.3,248.1 1291.0,255.8 1300.8,261.8 C1310.9,268.1 1324.0,272.2 1335.0,275.6 C1344.6,278.6 1353.6,279.6 1362.9,281.6" fill="none" stroke="#4caf50" stroke-width="2.3" stroke-linecap="round"/>
<path d="M1262.8,207.0 C1267.9,219.0 1270.9,233.1 1278.0,243.0 C1284.6,252.1 1293.2,259.1 1303.0,265.0 C1313.6,271.4 1329.0,276.0 1340.0,279.0 C1348.4,281.3 1355.3,281.7 1362.9,283.0" fill="none" stroke="#4caf50" stroke-width="2.3" stroke-linecap="round"/>
<path d="M1262.8,207.0 C1272.5,222.3 1279.5,241.4 1292.0,253.0 C1303.8,263.9 1319.9,268.1 1335.0,275.6 C1351.4,283.7 1372.2,289.5 1387.0,299.8 C1400.6,309.3 1414.7,322.8 1421.5,334.0 C1426.4,342.0 1426.5,349.8 1429.0,357.7" fill="none" stroke="#4caf50" stroke-width="2.3" stroke-linecap="round"/>
<polygon points="1429.0,357.7 1419.2,348.2 1426.3,349.1 1431.6,344.3" fill="#4caf50"/>
<path d="M1192.0,835.6 C1190.3,828.7 1192.6,821.9 1187.0,815.0 C1174.1,799.2 1110.9,773.1 1086.0,767.6 C1072.5,764.6 1062.1,764.9 1053.3,767.7 C1046.2,769.9 1041.8,775.7 1036.0,779.7" fill="none" stroke="#0f4a6c" stroke-width="2.3" stroke-linecap="round"/>
<polyline points="1038.3,770.8 1036.0,779.7 1045.2,780.6" fill="none" stroke="#0f4a6c" stroke-width="2.2" stroke-linejoin="miter" stroke-linecap="round"/>
<path d="M1190.0,834.0 C1190.9,796.0 1192.8,763.9 1192.7,720.0 C1192.5,659.8 1187.8,565.1 1186.3,506.2 C1185.3,464.7 1184.2,434.9 1184.2,400.0 C1184.2,366.2 1184.2,330.0 1186.0,300.0 C1187.5,275.3 1189.0,253.1 1192.8,232.7 C1196.1,215.3 1201.6,200.9 1206.0,185.0" fill="none" stroke="#0f4a6c" stroke-width="2.3" stroke-linecap="round"/>
<polyline points="1209.9,193.3 1206.0,185.0 1198.4,190.1" fill="none" stroke="#0f4a6c" stroke-width="2.2" stroke-linejoin="miter" stroke-linecap="round"/>
<path d="M1192.0,835.6 C1190.3,827.2 1190.0,820.0 1186.9,810.4 C1182.3,796.3 1173.2,775.3 1163.7,760.0 C1154.5,745.3 1142.8,733.8 1131.1,720.0 C1118.0,704.6 1103.4,686.2 1088.7,671.8 C1075.0,658.3 1060.7,646.5 1046.2,635.7 C1032.4,625.4 1019.7,616.5 1003.7,608.1 C985.0,598.2 956.5,587.5 940.0,581.6 C929.9,578.0 922.1,573.0 915.0,574.0 C909.1,574.9 903.6,579.2 900.0,584.0 C895.9,589.5 895.5,598.9 893.3,606.3" fill="none" stroke="#0f4a6c" stroke-width="2.3" stroke-linecap="round"/>
<polyline points="889.6,597.9 893.3,606.3 901.1,601.3" fill="none" stroke="#0f4a6c" stroke-width="2.2" stroke-linejoin="miter" stroke-linecap="round"/>
<path d="M1388.5,1281.0 C1371.7,1279.3 1357.4,1280.4 1338.0,1276.0 C1309.8,1269.7 1268.0,1254.0 1237.0,1240.0 C1208.6,1227.2 1183.6,1212.0 1158.5,1196.7 C1134.2,1181.9 1106.0,1164.5 1088.4,1150.0 C1076.2,1140.0 1071.1,1133.3 1060.0,1121.5 C1043.3,1103.7 1017.3,1074.0 998.8,1052.5 C983.0,1034.1 969.4,1019.8 955.6,1000.8 C940.5,979.9 925.9,953.1 912.5,931.8 C900.9,913.3 889.5,896.5 879.7,880.0 C871.1,865.5 864.7,855.7 856.6,838.4 C844.3,812.0 829.4,768.8 817.0,735.0 C805.2,702.8 790.8,662.9 784.0,640.0 C780.2,627.3 779.2,622.0 776.6,610.0 C772.7,592.5 768.1,566.4 763.8,544.8 C759.6,523.4 754.4,503.9 751.0,481.0 C747.1,454.8 743.8,421.3 742.6,396.0 C741.6,375.7 742.6,359.3 742.6,341.0" fill="none" stroke="#0f4a6c" stroke-width="2.3" stroke-linecap="round"/>
<polygon points="742.6,341.0 749.1,353.0 742.6,350.0 736.1,353.0" fill="#0f4a6c"/>
<path d="M1607.3,954.4 C1606.6,944.6 1606.9,934.3 1605.2,925.0 C1603.6,916.2 1602.6,910.2 1598.0,900.0 C1589.5,880.9 1569.4,843.9 1550.0,823.0 C1532.1,803.6 1510.4,791.3 1487.5,777.0 C1462.2,761.2 1433.7,747.3 1404.0,733.3 C1371.5,718.0 1334.9,703.4 1300.0,689.6 C1265.2,675.8 1227.9,663.4 1194.8,650.6 C1164.9,639.1 1138.1,628.3 1109.9,616.6 C1081.5,604.9 1053.3,592.4 1024.9,580.5 C996.6,568.7 964.4,557.3 940.0,545.5 C920.5,536.1 905.8,528.2 889.0,517.2 C871.1,505.5 851.0,490.3 836.0,476.8 C823.5,465.5 813.0,454.9 804.0,442.9 C795.5,431.5 788.8,418.7 783.0,406.8 C777.7,396.1 772.7,385.9 770.0,375.0 C767.4,364.3 768.0,353.0 767.0,342.0" fill="none" stroke="#0f4a6c" stroke-width="2.3" stroke-linecap="round"/>
<polygon points="767.0,342.0 774.6,353.4 767.8,351.0 761.6,354.5" fill="#0f4a6c"/>
<path d="M1194.4,912.2 C1191.9,919.3 1191.6,926.4 1187.0,933.4 C1180.9,942.8 1170.4,951.3 1157.2,961.0 C1136.7,976.1 1101.6,995.8 1072.3,1009.9 C1043.0,1024.0 1009.8,1035.1 981.5,1045.6 C957.0,1054.7 935.6,1062.3 912.5,1069.8 C889.6,1077.3 866.7,1085.5 843.5,1090.5 C820.7,1095.5 792.7,1100.0 774.5,1100.0 C762.6,1100.0 752.6,1098.7 745.0,1096.0 C739.5,1094.0 734.8,1091.4 732.0,1088.0 C729.7,1085.2 729.6,1081.3 728.4,1078.0" fill="none" stroke="#0f4a6c" stroke-width="2.3" stroke-linecap="round"/>
<polyline points="736.4,1082.6 728.4,1078.0 725.1,1086.6" fill="none" stroke="#0f4a6c" stroke-width="2.2" stroke-linejoin="miter" stroke-linecap="round"/>
<path d="M1431.0,887.5 C1449.8,882.0 1468.9,879.7 1487.5,871.0 C1508.6,861.1 1529.9,845.5 1550.0,829.0 C1571.7,811.1 1595.7,792.2 1612.5,766.7 C1631.4,738.0 1645.4,693.2 1654.0,662.5 C1660.5,639.4 1662.5,617.6 1664.6,600.0 C1666.1,587.3 1666.1,578.0 1666.9,567.0" fill="none" stroke="#0f4a6c" stroke-width="2.3" stroke-linecap="round"/>
<polyline points="1672.4,574.4 1666.9,567.0 1660.4,573.6" fill="none" stroke="#0f4a6c" stroke-width="2.2" stroke-linejoin="miter" stroke-linecap="round"/>
<path d="M1368.5,905.6 C1368.8,910.6 1367.8,915.1 1369.5,920.5 C1371.8,928.1 1378.0,938.1 1384.4,946.0 C1391.3,954.5 1403.1,962.2 1410.0,969.3 C1415.1,974.6 1419.8,978.4 1422.6,984.2 C1425.5,990.3 1425.4,998.3 1426.8,1005.4" fill="none" stroke="#0f4a6c" stroke-width="2.3" stroke-linecap="round"/>
<polyline points="1419.6,999.7 1426.8,1005.4 1431.3,997.4" fill="none" stroke="#0f4a6c" stroke-width="2.2" stroke-linejoin="miter" stroke-linecap="round"/>
<path d="M1423.0,1010.0 C1417.2,993.6 1410.4,972.9 1405.6,960.8 C1402.8,953.6 1397.5,947.7 1398.2,943.8 C1398.7,941.3 1401.1,939.5 1403.5,938.5 C1406.5,937.3 1411.3,938.5 1415.2,938.5" fill="none" stroke="#0f4a6c" stroke-width="2.3" stroke-linecap="round"/>
<polyline points="1408.2,944.5 1415.2,938.5 1408.2,932.5" fill="none" stroke="#0f4a6c" stroke-width="2.2" stroke-linejoin="miter" stroke-linecap="round"/>
<path d="M1457.6,956.6 L1450.2,1005.4" fill="none" stroke="#0f4a6c" stroke-width="2.3" stroke-linecap="round"/>
<polyline points="1445.3,997.6 1450.2,1005.4 1457.2,999.4" fill="none" stroke="#0f4a6c" stroke-width="2.2" stroke-linejoin="miter" stroke-linecap="round"/>
<path d="M1472.5,1006.5 C1472.1,999.1 1469.7,990.4 1471.4,984.2 C1472.8,979.1 1476.0,973.5 1480.0,971.4 C1483.9,969.3 1489.4,971.3 1494.8,971.4 C1501.5,971.6 1509.6,972.1 1517.0,972.5" fill="none" stroke="#0f4a6c" stroke-width="2.3" stroke-linecap="round"/>
<polyline points="1509.7,978.1 1517.0,972.5 1510.3,966.2" fill="none" stroke="#0f4a6c" stroke-width="2.2" stroke-linejoin="miter" stroke-linecap="round"/>
<path d="M1607.3,990.5 C1606.6,997.6 1608.1,1005.8 1605.2,1011.8 C1602.4,1017.8 1597.3,1023.2 1590.3,1026.6 C1580.3,1031.5 1562.2,1031.1 1547.9,1032.0 C1533.3,1032.9 1518.2,1032.0 1503.3,1032.0" fill="none" stroke="#0f4a6c" stroke-width="2.3" stroke-linecap="round"/>
<polyline points="1510.3,1026.0 1503.3,1032.0 1510.3,1038.0" fill="none" stroke="#0f4a6c" stroke-width="2.2" stroke-linejoin="miter" stroke-linecap="round"/>
<path d="M1404.5,1011.8 C1404.2,1004.0 1406.6,994.2 1403.5,988.4 C1400.7,983.3 1394.9,979.7 1388.6,977.8 C1380.1,975.2 1366.7,978.5 1355.7,978.9" fill="none" stroke="#0f4a6c" stroke-width="2.3" stroke-linecap="round"/>
<polyline points="1362.5,972.7 1355.7,978.9 1362.9,984.7" fill="none" stroke="#0f4a6c" stroke-width="2.2" stroke-linejoin="miter" stroke-linecap="round"/>
<path d="M1286.7,999.0 C1287.4,1004.7 1285.6,1011.1 1288.8,1016.0 C1293.0,1022.4 1304.3,1027.9 1314.3,1030.9 C1326.3,1034.5 1343.4,1032.7 1356.8,1033.0 C1368.7,1033.3 1379.4,1033.0 1390.7,1033.0" fill="none" stroke="#0f4a6c" stroke-width="2.3" stroke-linecap="round"/>
<polyline points="1383.7,1039.0 1390.7,1033.0 1383.7,1027.0" fill="none" stroke="#0f4a6c" stroke-width="2.2" stroke-linejoin="miter" stroke-linecap="round"/>
<path d="M1270.0,1040.5 C1270.6,1036.7 1269.8,1031.5 1271.8,1029.0 C1273.7,1026.6 1277.2,1025.2 1281.3,1025.4 C1288.9,1025.7 1302.3,1035.1 1313.4,1040.5 C1325.5,1046.4 1339.4,1054.9 1351.3,1059.4 C1361.2,1063.2 1370.2,1064.5 1379.6,1067.0" fill="none" stroke="#0f4a6c" stroke-width="2.3" stroke-linecap="round"/>
<polyline points="1371.3,1071.0 1379.6,1067.0 1374.4,1059.4" fill="none" stroke="#0f4a6c" stroke-width="2.2" stroke-linejoin="miter" stroke-linecap="round"/>
<path d="M1380.6,1087.8 C1364.5,1089.7 1347.5,1091.6 1332.4,1093.4 C1319.0,1095.0 1304.3,1098.5 1294.5,1098.2 C1288.3,1098.0 1283.5,1097.7 1279.4,1095.3 C1275.4,1092.9 1271.4,1087.9 1270.0,1084.0 C1268.9,1080.9 1270.0,1077.7 1270.0,1074.5" fill="none" stroke="#0f4a6c" stroke-width="2.3" stroke-linecap="round"/>
<polyline points="1276.0,1081.5 1270.0,1074.5 1264.0,1081.5" fill="none" stroke="#0f4a6c" stroke-width="2.2" stroke-linejoin="miter" stroke-linecap="round"/>
<path d="M1391.0,1102.9 C1380.9,1104.2 1368.9,1103.0 1360.7,1106.7 C1353.6,1109.9 1347.3,1115.4 1343.7,1121.8 C1339.9,1128.5 1339.7,1139.4 1339.0,1146.4 C1338.5,1151.5 1339.0,1155.2 1339.0,1159.6" fill="none" stroke="#0f4a6c" stroke-width="2.3" stroke-linecap="round"/>
<polyline points="1333.0,1152.6 1339.0,1159.6 1345.0,1152.6" fill="none" stroke="#0f4a6c" stroke-width="2.2" stroke-linejoin="miter" stroke-linecap="round"/>
<path d="M1452.4,1244.7 C1451.8,1219.5 1451.1,1189.2 1450.5,1169.0 C1450.1,1155.4 1449.6,1146.3 1449.2,1135.0" fill="none" stroke="#0f4a6c" stroke-width="2.3" stroke-linecap="round"/>
<polyline points="1455.5,1141.8 1449.2,1135.0 1443.5,1142.2" fill="none" stroke="#0f4a6c" stroke-width="2.2" stroke-linejoin="miter" stroke-linecap="round"/>
<path d="M1468.5,1133.1 C1469.8,1141.9 1469.8,1149.6 1472.3,1159.6 C1475.7,1173.2 1483.3,1192.6 1489.3,1206.9 C1494.5,1219.2 1500.1,1229.5 1505.5,1240.4 C1510.6,1250.8 1521.4,1263.5 1520.7,1270.7 C1520.3,1275.1 1515.6,1277.4 1513.0,1280.8" fill="none" stroke="#0f4a6c" stroke-width="2.3" stroke-linecap="round"/>
<path d="M1653.0,1057.4 C1652.6,1053.2 1653.7,1047.7 1651.7,1044.8 C1649.8,1042.0 1646.3,1040.6 1641.7,1039.8 C1633.3,1038.4 1618.9,1041.6 1603.9,1044.8 C1580.9,1049.7 1546.6,1061.6 1518.0,1070.0" fill="none" stroke="#0f4a6c" stroke-width="2.3" stroke-linecap="round"/>
<polyline points="1523.0,1062.3 1518.0,1070.0 1526.4,1073.8" fill="none" stroke="#0f4a6c" stroke-width="2.2" stroke-linejoin="miter" stroke-linecap="round"/>
<path d="M1518.0,1087.7 C1534.0,1091.1 1550.0,1093.0 1566.0,1097.8 C1582.8,1102.9 1601.6,1113.8 1616.5,1118.0 C1627.7,1121.1 1640.4,1125.5 1646.7,1123.0 C1650.8,1121.4 1651.8,1116.3 1654.3,1113.0" fill="none" stroke="#0f4a6c" stroke-width="2.3" stroke-linecap="round"/>
<polyline points="1654.8,1122.2 1654.3,1113.0 1645.3,1114.9" fill="none" stroke="#0f4a6c" stroke-width="2.2" stroke-linejoin="miter" stroke-linecap="round"/>
<path d="M1624.0,1176.0 C1623.2,1169.7 1624.2,1163.0 1621.5,1157.0 C1618.3,1149.9 1611.5,1143.4 1604.0,1137.0 C1594.2,1128.6 1580.8,1118.0 1566.0,1113.0 C1548.8,1107.2 1525.7,1109.7 1505.5,1108.0" fill="none" stroke="#0f4a6c" stroke-width="2.3" stroke-linecap="round"/>
<polyline points="1513.0,1102.6 1505.5,1108.0 1512.0,1114.6" fill="none" stroke="#0f4a6c" stroke-width="2.2" stroke-linejoin="miter" stroke-linecap="round"/>
<path d="M809.5,1333.7 C791.5,1332.7 776.6,1333.6 755.6,1330.6 C725.4,1326.3 685.5,1317.8 646.3,1305.6 C598.3,1290.6 541.4,1267.1 490.0,1243.0 C437.2,1218.3 374.7,1184.5 333.8,1158.8 C305.5,1141.0 279.0,1124.6 265.0,1108.8 C256.4,1099.1 248.3,1088.3 249.4,1080.6 C250.3,1074.2 258.6,1068.2 265.0,1065.0 C271.9,1061.5 281.5,1062.1 290.0,1061.3 C298.7,1060.5 307.7,1060.6 316.6,1060.3" fill="none" stroke="#363636" stroke-width="2.3" stroke-linecap="round"/>
<polyline points="309.8,1066.6 316.6,1060.3 309.4,1054.6" fill="none" stroke="#363636" stroke-width="2.2" stroke-linejoin="miter" stroke-linecap="round"/>
<path d="M809.5,1333.7 C796.8,1331.6 785.1,1332.5 771.3,1327.5 C752.4,1320.6 731.1,1305.8 708.8,1290.0 C680.0,1269.5 641.4,1241.3 615.0,1211.9 C589.6,1183.7 568.5,1146.0 552.5,1118.0 C540.4,1096.8 532.0,1079.3 524.4,1060.0 C517.2,1041.8 514.6,1024.8 507.4,1005.4 C498.9,982.3 485.4,958.3 475.5,931.0 C463.9,899.1 451.7,858.6 443.7,825.0 C436.7,795.3 432.0,764.0 428.8,740.0 C426.5,722.6 426.3,711.2 424.7,694.8 C422.8,675.4 420.0,653.9 418.3,631.0 C416.3,604.5 415.4,573.7 414.0,545.0" fill="none" stroke="#363636" stroke-width="2.3" stroke-linecap="round"/>
<polyline points="420.3,551.7 414.0,545.0 408.4,552.3" fill="none" stroke="#363636" stroke-width="2.2" stroke-linejoin="miter" stroke-linecap="round"/>
<path d="M869.7,1294.4 C867.9,1242.9 866.7,1184.2 864.2,1140.0 C862.3,1106.7 861.1,1079.8 857.3,1052.5 C853.9,1028.0 848.6,1008.8 843.5,983.5 C837.3,952.5 829.7,908.2 822.8,880.0 C818.0,860.2 814.5,846.0 808.3,829.8 C802.2,813.7 794.6,793.1 785.9,783.2 C780.1,776.7 773.3,775.1 767.0,771.0" fill="none" stroke="#363636" stroke-width="2.3" stroke-linecap="round"/>
<polyline points="776.1,769.8 767.0,771.0 769.6,779.8" fill="none" stroke="#363636" stroke-width="2.2" stroke-linejoin="miter" stroke-linecap="round"/>
<path d="M869.7,1294.4 C870.1,1242.9 869.3,1186.5 871.0,1140.0 C872.4,1101.6 875.2,1068.2 878.0,1035.0 C880.5,1004.9 884.6,976.1 886.6,949.0 C888.4,924.8 889.2,903.9 890.0,880.0 C890.8,854.3 890.0,821.9 891.1,800.0 C891.9,784.6 893.8,776.0 894.6,760.8 C895.8,739.7 895.7,710.2 896.3,684.9" fill="none" stroke="#363636" stroke-width="2.3" stroke-linecap="round"/>
<polyline points="902.1,692.0 896.3,684.9 890.1,691.8" fill="none" stroke="#363636" stroke-width="2.2" stroke-linejoin="miter" stroke-linecap="round"/>
<path d="M869.7,1294.4 C877.1,1242.9 879.5,1183.5 891.8,1140.0 C901.4,1106.0 919.1,1081.9 929.8,1052.5 C940.2,1024.0 949.9,995.1 955.6,966.3 C961.1,938.4 962.2,904.7 964.0,882.5 C965.2,868.0 965.5,858.4 966.2,846.4" fill="none" stroke="#363636" stroke-width="2.3" stroke-linecap="round"/>
<polyline points="971.8,853.8 966.2,846.4 959.8,853.0" fill="none" stroke="#363636" stroke-width="2.2" stroke-linejoin="miter" stroke-linecap="round"/>
<path d="M869.7,1294.4 C877.1,1242.9 881.9,1177.6 891.8,1140.0 C897.8,1117.3 904.2,1105.6 912.5,1087.0 C922.1,1065.3 933.2,1040.4 947.0,1018.0 C961.6,994.3 979.4,969.6 998.8,949.0 C1017.8,928.8 1043.5,906.2 1061.7,895.2 C1073.4,888.1 1082.1,885.3 1093.5,882.5 C1106.0,879.4 1120.4,879.6 1133.9,878.2" fill="none" stroke="#363636" stroke-width="2.3" stroke-linecap="round"/>
<polyline points="1127.6,884.9 1133.9,878.2 1126.3,873.0" fill="none" stroke="#363636" stroke-width="2.2" stroke-linejoin="miter" stroke-linecap="round"/>
<path d="M946.2,1333.7 C960.3,1327.7 975.5,1325.2 988.6,1315.6 C1004.1,1304.3 1018.5,1288.0 1031.0,1266.8 C1048.3,1237.4 1062.0,1181.7 1073.5,1150.0 C1081.4,1128.2 1085.0,1112.6 1093.5,1094.8 C1102.2,1076.5 1114.2,1057.9 1125.4,1041.7 C1135.6,1027.0 1145.5,1011.2 1157.2,1001.4 C1167.0,993.2 1178.2,987.7 1189.0,984.4 C1198.8,981.4 1208.9,982.3 1218.8,981.2" fill="none" stroke="#363636" stroke-width="2.3" stroke-linecap="round"/>
<polyline points="1212.5,987.9 1218.8,981.2 1211.2,976.0" fill="none" stroke="#363636" stroke-width="2.2" stroke-linejoin="miter" stroke-linecap="round"/>
<path d="M956.8,1332.6 C970.9,1324.8 986.1,1320.3 999.2,1309.2 C1014.8,1296.1 1027.5,1277.5 1041.7,1256.0 C1060.7,1227.4 1084.2,1181.5 1099.0,1150.0 C1110.3,1125.8 1116.1,1106.7 1125.4,1084.2 C1135.4,1060.1 1144.6,1033.2 1157.2,1009.9 C1169.5,987.2 1183.0,965.1 1199.7,946.2 C1216.3,927.5 1240.9,906.1 1257.0,897.0 C1266.6,891.6 1274.2,890.3 1282.5,888.6 C1290.1,887.0 1297.4,887.2 1304.8,886.5" fill="none" stroke="#363636" stroke-width="2.3" stroke-linecap="round"/>
<polyline points="1298.4,893.1 1304.8,886.5 1297.3,881.2" fill="none" stroke="#363636" stroke-width="2.2" stroke-linejoin="miter" stroke-linecap="round"/>
<path d="M1009.9,1333.7 C1038.2,1329.1 1068.5,1324.2 1094.8,1319.9 C1117.6,1316.1 1136.0,1313.4 1158.5,1309.2 C1184.0,1304.4 1208.4,1296.6 1240.0,1292.3 C1283.0,1286.4 1342.4,1285.4 1393.6,1282.0" fill="none" stroke="#363636" stroke-width="2.3" stroke-linecap="round"/>
<polyline points="1387.0,1288.5 1393.6,1282.0 1386.2,1276.5" fill="none" stroke="#363636" stroke-width="2.2" stroke-linejoin="miter" stroke-linecap="round"/>
</svg></body></html>
